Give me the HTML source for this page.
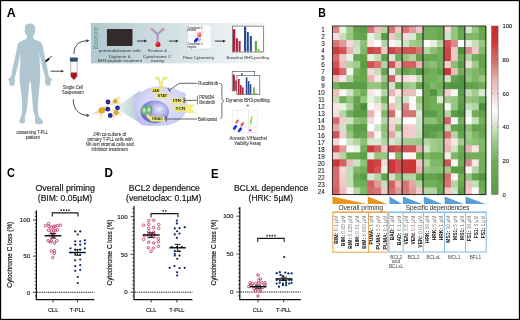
<!DOCTYPE html>
<html><head><meta charset="utf-8"><style>html,body{margin:0;padding:0;background:#fff;width:520px;height:320px;overflow:hidden}</style></head>
<body><div style="will-change:transform;width:520px;height:320px">
<svg xmlns="http://www.w3.org/2000/svg" width="520" height="320" viewBox="0 0 520 320" style="display:block">
<g font-family='"Liberation Sans", sans-serif'>
<defs>
<linearGradient id="gbox" x1="0" x2="1" y1="0" y2="0"><stop offset="0" stop-color="#b0c8d0"/><stop offset="0.55" stop-color="#dae5e8"/><stop offset="1" stop-color="#f8fafa"/></linearGradient>
<linearGradient id="gcb" x1="0" x2="0" y1="0" y2="1"><stop offset="0.000" stop-color="#c8282c"/><stop offset="0.100" stop-color="#cc3a3a"/><stop offset="0.230" stop-color="#d87a7a"/><stop offset="0.320" stop-color="#e8b4b4"/><stop offset="0.400" stop-color="#f2cece"/><stop offset="0.500" stop-color="#ffffff"/><stop offset="0.600" stop-color="#cee4c8"/><stop offset="0.700" stop-color="#98c684"/><stop offset="0.800" stop-color="#72ae5c"/><stop offset="0.900" stop-color="#64a452"/><stop offset="1.000" stop-color="#5a9a4a"/></linearGradient>
<linearGradient id="gcone" x1="0" x2="1" y1="0" y2="0"><stop offset="0" stop-color="#e2ecee"/><stop offset="1" stop-color="#b0c8cc"/></linearGradient>
<radialGradient id="gcell" cx="0.55" cy="0.45" r="0.6"><stop offset="0" stop-color="#e4e4fa"/><stop offset="0.7" stop-color="#d2d4f6"/><stop offset="1" stop-color="#bcc0f0"/></radialGradient>
<radialGradient id="gnuc" cx="0.62" cy="0.42" r="0.62" fx="0.66" fy="0.38"><stop offset="0" stop-color="#ececfa"/><stop offset="0.45" stop-color="#aeaee6"/><stop offset="0.85" stop-color="#7c7cd2"/><stop offset="1" stop-color="#6a6ac6"/></radialGradient>
<radialGradient id="gchr" cx="0.45" cy="0.5" r="0.6"><stop offset="0" stop-color="#f4fff4"/><stop offset="0.35" stop-color="#96cf9e"/><stop offset="1" stop-color="#3f9456"/></radialGradient>
<radialGradient id="gblue" cx="0.5" cy="0.5" r="0.5"><stop offset="0" stop-color="#3a3ab8"/><stop offset="0.75" stop-color="#1e1e98"/><stop offset="1" stop-color="#3030a0"/></radialGradient>
<radialGradient id="ggold" cx="0.5" cy="0.5" r="0.5"><stop offset="0" stop-color="#e2b832"/><stop offset="0.8" stop-color="#d4a424"/><stop offset="1" stop-color="#b88818"/></radialGradient>
</defs>
<rect x="0" y="0" width="520" height="320" fill="#fff"/>
<text x="6.8" y="16.6" font-size="12" fill="#000" text-anchor="start" font-weight="bold" textLength="9.0" lengthAdjust="spacingAndGlyphs" >A</text>
<text x="318.2" y="16.9" font-size="12" fill="#000" text-anchor="start" font-weight="bold" textLength="7.6" lengthAdjust="spacingAndGlyphs" >B</text>
<text x="7.0" y="177.4" font-size="12" fill="#000" text-anchor="start" font-weight="bold" textLength="7.9" lengthAdjust="spacingAndGlyphs" >C</text>
<text x="104.5" y="177.2" font-size="12" fill="#000" text-anchor="start" font-weight="bold" textLength="8.4" lengthAdjust="spacingAndGlyphs" >D</text>
<text x="211.1" y="177.5" font-size="12" fill="#000" text-anchor="start" font-weight="bold" textLength="7.6" lengthAdjust="spacingAndGlyphs" >E</text>
<path d="M24.9,28.2 C24.9,24.6 27.4,23.4 30,23.4 C32.6,23.4 35.1,24.6 35.1,28.2 L35.1,30.4 C35.7,30.5 35.7,32.4 35,32.8 C34.6,34.2 33.9,35.1 33.3,35.6 L26.7,35.6 C26.1,35.1 25.4,34.2 25,32.8 C24.3,32.4 24.3,30.5 24.9,30.4 Z" fill="#afc6d0"/>
<path d="M26.9,34 L26.9,38.4 C24.6,39.7 21.6,40.6 19.7,42 C18.2,43.1 17.2,45 16.9,48 L14.6,60 L13,66 L11.2,76.3 C10,77.6 8.4,79 7.3,80.3 C8,80.9 9,80.5 9.5,80.3 L9.3,83.8 L10.3,85.9 L11.9,85.5 L13.3,85.9 L14.5,84.6 L15,80.6 L14.9,77 L18,66 L18.6,62 L20.5,53 L20.3,60 L19.8,70 L19.5,78 L19.8,82 L21.4,94.4 L22.2,104 L22,110 L21.4,115.5 C20.2,118 19.2,120.5 19.5,122 C20,123.8 24,124 24.9,122.5 L25,116.5 L26.9,110 L28.4,94.4 L29.2,84 L30,80.3 L30.8,84 L31.9,94.4 L33.1,110 L35,116.5 L35.1,122.8 C36,124.6 42.8,125.2 43.3,122.6 C43,120.5 39.8,118 38.6,115.5 L37.8,110 L38,104 L38.6,94.4 L40,82 L40.3,78 L40,70 L39.7,60 L39.5,53 L41.4,62 L42,66 L45.1,77 L45,80.6 L45.5,84.6 L46.7,85.9 L48.1,85.5 L49.7,85.9 L50.7,83.8 L50.5,80.3 C51,80.5 52,80.9 52.7,80.3 C51.6,79 50,77.6 48.8,76.3 L47,66 L45.4,60 L43.1,48 C42.8,45 41.8,43.1 40.3,42 C38.4,40.6 35.4,39.7 33.1,38.4 L33.1,34 Z" fill="#afc6d0"/>
<line x1="44.6" y1="62.4" x2="45.8" y2="61.3" stroke="#444" stroke-width="0.5"/>
<line x1="45.6" y1="61.5" x2="49.2" y2="58.4" stroke="#111" stroke-width="2"/>
<line x1="49.2" y1="58.4" x2="52.2" y2="55.8" stroke="#777" stroke-width="1.1"/>
<text x="32.2" y="134.1" font-size="4.8" fill="#2a2a2a" text-anchor="middle" font-weight="normal" textLength="31.6" lengthAdjust="spacingAndGlyphs" stroke="#2a2a2a" stroke-width="0.06" >consenting T-PLL</text>
<text x="32.9" y="138.6" font-size="4.8" fill="#2a2a2a" text-anchor="middle" font-weight="normal" textLength="14" lengthAdjust="spacingAndGlyphs" stroke="#2a2a2a" stroke-width="0.06" >patient</text>
<line x1="50.5" y1="71.2" x2="61.8" y2="71.2" stroke="#333" stroke-width="0.9"/>
<path d="M61.2,69.8 L64,71.2 L61.2,72.6 Z" fill="#333"/>
<path d="M70.6,61.3 L77.2,61.3 L77.2,76.4 L74.2,80.2 L73.6,80.2 L70.6,76.4 Z" fill="#fff" stroke="#9a9a9a" stroke-width="0.6"/>
<path d="M70.9,72.6 L76.9,72.6 L76.9,76.3 L74.1,79.8 L73.7,79.8 L70.9,76.3 Z" fill="#a8161e"/>
<rect x="69.9" y="57.5" width="7.9" height="4" rx="0.8" fill="#2a4470"/>
<line x1="70.4" y1="59.1" x2="77.3" y2="59.1" stroke="#6a84aa" stroke-width="0.4"/>
<line x1="71.2" y1="63.8" x2="72.6" y2="63.8" stroke="#aaa" stroke-width="0.35"/>
<line x1="71.2" y1="65.6" x2="72.6" y2="65.6" stroke="#aaa" stroke-width="0.35"/>
<line x1="71.2" y1="67.4" x2="72.6" y2="67.4" stroke="#aaa" stroke-width="0.35"/>
<line x1="71.2" y1="69.2" x2="72.6" y2="69.2" stroke="#aaa" stroke-width="0.35"/>
<text x="72.9" y="88.8" font-size="4.8" fill="#2a2a2a" text-anchor="middle" font-weight="normal" textLength="20.4" lengthAdjust="spacingAndGlyphs" stroke="#2a2a2a" stroke-width="0.06" >Single Cell</text>
<text x="72.85" y="93.8" font-size="4.8" fill="#2a2a2a" text-anchor="middle" font-weight="normal" textLength="21.9" lengthAdjust="spacingAndGlyphs" stroke="#2a2a2a" stroke-width="0.06" >Suspension</text>
<path d="M74,54 C74,46 78,41.2 86.6,40.8" fill="none" stroke="#333" stroke-width="0.9"/>
<path d="M86.4,39.3 L89.6,40.8 L86.4,42.3 Z" fill="#333"/>
<path d="M73.3,99.2 C73,108 78,114.8 86.8,115.3" fill="none" stroke="#333" stroke-width="0.9"/>
<path d="M86.6,113.8 L89.8,115.4 L86.6,116.9 Z" fill="#333"/>
<rect x="90.9" y="23" width="176" height="40.4" fill="url(#gbox)"/>
<text x="0" y="0" font-size="6.3" fill="#5e9e7a" text-anchor="middle" textLength="22.8" lengthAdjust="spacingAndGlyphs" transform="translate(97.7,38.1) rotate(-90)">Baseline</text>
<rect x="106.9" y="28.9" width="25.6" height="17.0" rx="0.8" fill="#322b2b"/>
<line x1="137" y1="41" x2="144.6" y2="41" stroke="#222" stroke-width="0.9"/>
<path d="M144.2,39.6 L147,41 L144.2,42.4 Z" fill="#222"/>
<path d="M151.7,29 L157.6,34.2 L163.4,29" fill="none" stroke="#ab92c8" stroke-width="2"/>
<line x1="157.6" y1="34" x2="157.6" y2="42.5" stroke="#ab92c8" stroke-width="2"/>
<line x1="151.2" y1="28.4" x2="153" y2="30.1" stroke="#c89a68" stroke-width="2.1"/>
<line x1="163.9" y1="28.4" x2="162.1" y2="30.1" stroke="#c89a68" stroke-width="2.1"/>
<circle cx="158" cy="44.6" r="2.5" fill="#d8101c"/>
<circle cx="157.3" cy="43.8" r="0.8" fill="#f88"/>
<line x1="169" y1="41.1" x2="176.2" y2="41.1" stroke="#222" stroke-width="0.9"/>
<path d="M175.8,39.7 L178.6,41.1 L175.8,42.5 Z" fill="#222"/>
<line x1="214.7" y1="41.1" x2="223.4" y2="41.1" stroke="#222" stroke-width="0.9"/>
<path d="M223,39.7 L225.8,41.1 L223,42.5 Z" fill="#222"/>
<text x="119.80000000000001" y="52.2" font-size="4.4" fill="#333" text-anchor="middle" font-weight="normal" textLength="42.0" lengthAdjust="spacingAndGlyphs" >permeabilization with</text>
<text x="119.75" y="57.5" font-size="4.4" fill="#333" text-anchor="middle" font-weight="normal" textLength="21.9" lengthAdjust="spacingAndGlyphs" >Digitonin &amp;</text>
<text x="119.85" y="62.2" font-size="4.4" fill="#333" text-anchor="middle" font-weight="normal" textLength="44.1" lengthAdjust="spacingAndGlyphs" >BH3 peptide treatment</text>
<text x="157.5" y="52.2" font-size="4.4" fill="#333" text-anchor="middle" font-weight="normal" textLength="19" lengthAdjust="spacingAndGlyphs" >Fication &amp;</text>
<text x="157.1" y="57.5" font-size="4.4" fill="#333" text-anchor="middle" font-weight="normal" textLength="28.2" lengthAdjust="spacingAndGlyphs" >Cytochrome C</text>
<text x="157.3" y="61.6" font-size="4.4" fill="#333" text-anchor="middle" font-weight="normal" textLength="13.2" lengthAdjust="spacingAndGlyphs" >staining</text>
<text x="198.55" y="59" font-size="4.4" fill="#333" text-anchor="middle" font-weight="normal" textLength="31.3" lengthAdjust="spacingAndGlyphs" >Flow Cytometry</text>
<text x="247.95" y="59" font-size="4.4" fill="#333" text-anchor="middle" font-weight="normal" textLength="42.9" lengthAdjust="spacingAndGlyphs" >Baseline BH3-profiling</text>
<rect x="187" y="25.5" width="23.5" height="24" fill="#fff"/>
<line x1="187.3" y1="26" x2="187.3" y2="49" stroke="#999" stroke-width="0.3"/>
<line x1="187.3" y1="49" x2="210.8" y2="49" stroke="#999" stroke-width="0.3"/>
<line x1="192" y1="49" x2="192" y2="49.8" stroke="#999" stroke-width="0.3"/>
<line x1="196.8" y1="49" x2="196.8" y2="49.8" stroke="#999" stroke-width="0.3"/>
<line x1="201.6" y1="49" x2="201.6" y2="49.8" stroke="#999" stroke-width="0.3"/>
<line x1="206.4" y1="49" x2="206.4" y2="49.8" stroke="#999" stroke-width="0.3"/>
<line x1="210.8" y1="49" x2="210.8" y2="49.8" stroke="#999" stroke-width="0.3"/>
<text x="187.6" y="28.5" font-size="2.9" fill="#444" text-anchor="start" font-weight="bold" textLength="15.2" lengthAdjust="spacingAndGlyphs" >Cytochrome C</text>
<text x="187.6" y="30.8" font-size="2.9" fill="#444" text-anchor="start" font-weight="bold" textLength="8.8" lengthAdjust="spacingAndGlyphs" >positive</text>
<text x="187.6" y="45.2" font-size="2.9" fill="#444" text-anchor="start" font-weight="bold" textLength="15.2" lengthAdjust="spacingAndGlyphs" >Cytochrome C</text>
<text x="187.6" y="47.5" font-size="2.9" fill="#444" text-anchor="start" font-weight="bold" textLength="8.8" lengthAdjust="spacingAndGlyphs" >negative</text>
<line x1="187.5" y1="35.2" x2="196" y2="36.2" stroke="#ccc" stroke-width="0.4"/>
<line x1="199.5" y1="38.5" x2="205.5" y2="42" stroke="#ddd" stroke-width="0.4"/>
<ellipse cx="199.3" cy="34.5" rx="2.4" ry="3" fill="#f08a8a" opacity="0.8" transform="rotate(30 199.3 34.5)"/>
<ellipse cx="199.8" cy="35.8" rx="1.4" ry="1.6" fill="#e04a4a" opacity="0.8"/>
<circle cx="202.5" cy="31.5" r="0.45" fill="#f07070"/>
<circle cx="203.8" cy="32.8" r="0.45" fill="#f07070"/>
<circle cx="201.6" cy="30.6" r="0.45" fill="#f07070"/>
<circle cx="196" cy="32" r="0.45" fill="#f07070"/>
<circle cx="204.5" cy="31" r="0.45" fill="#f07070"/>
<circle cx="195.2" cy="33.2" r="0.45" fill="#f07070"/>
<ellipse cx="199.6" cy="40" rx="2" ry="1.1" fill="#9aa8f8" opacity="0.8" transform="rotate(-45 199.6 40)"/>
<ellipse cx="196.2" cy="40" rx="1.5" ry="3" fill="#1424e8" transform="rotate(40 196.2 40)"/>
<rect x="232.3" y="26.1" width="31.3" height="25.9" fill="#fff" stroke="#444" stroke-width="0.6"/>
<rect x="232.9" y="29.2" width="2.4" height="22.40" fill="#b01c3c"/>
<rect x="235.9" y="38.3" width="2" height="13.30" fill="#b01c3c"/>
<rect x="238.6" y="41" width="2" height="10.60" fill="#b01c3c"/>
<rect x="244" y="26.6" width="2.2" height="25.00" fill="#2a4a8a"/>
<rect x="246.9" y="32" width="1.9" height="19.60" fill="#2a4a8a"/>
<rect x="249.8" y="36" width="2.1" height="15.60" fill="#2a4a8a"/>
<rect x="254.8" y="41" width="2.1" height="10.60" fill="#5aaa3a"/>
<rect x="257.7" y="49.2" width="1.5" height="2.40" fill="#5aaa3a"/>
<rect x="259.7" y="50.8" width="2.2" height="0.80" fill="#5aaa3a"/>
<rect x="232.2" y="71.4" width="22.5" height="19.5" fill="#fff" stroke="#444" stroke-width="0.6"/>
<rect x="232.9" y="74.6" width="2" height="15.90" fill="#b01c3c"/>
<rect x="235.2" y="80.5" width="1.6" height="10.00" fill="#b01c3c"/>
<rect x="241.2" y="73.2" width="1.4" height="17.30" fill="#2a4a8a"/>
<rect x="236.9" y="75.6" width="22.9" height="19.1" fill="#fff" stroke="#444" stroke-width="0.6"/>
<rect x="238" y="79" width="1.6" height="15.30" fill="#b01c3c"/>
<rect x="240" y="85" width="1.6" height="9.30" fill="#b01c3c"/>
<rect x="242" y="87.3" width="1.6" height="7.00" fill="#b01c3c"/>
<rect x="245.8" y="77.2" width="1.6" height="17.10" fill="#2a4a8a"/>
<rect x="247.8" y="81" width="1.6" height="13.30" fill="#2a4a8a"/>
<rect x="249.7" y="84.2" width="1.6" height="10.10" fill="#2a4a8a"/>
<rect x="253.1" y="87.3" width="1.6" height="7.00" fill="#5aaa3a"/>
<rect x="255.2" y="92.8" width="1.5" height="1.50" fill="#5aaa3a"/>
<text x="247.85" y="101.9" font-size="4.8" fill="#2a2a2a" text-anchor="middle" font-weight="normal" textLength="43.7" lengthAdjust="spacingAndGlyphs" stroke="#2a2a2a" stroke-width="0.06" >Dynamic BH3-profiling</text>
<text x="248" y="106.9" font-size="4.8" fill="#2a2a2a" text-anchor="middle" font-weight="normal" stroke="#2a2a2a" stroke-width="0.06" >+</text>
<rect x="232.8" y="110.3" width="16" height="20" fill="#fff" stroke="#ccc" stroke-width="0.3"/>
<rect x="237.5" y="110" width="19.7" height="22.3" fill="#fff" stroke="#ccc" stroke-width="0.3"/>
<line x1="248.6" y1="110" x2="248.6" y2="132.3" stroke="#bbb" stroke-width="0.3"/>
<line x1="237.5" y1="127" x2="257.2" y2="127" stroke="#bbb" stroke-width="0.3"/>
<line x1="240" y1="132.3" x2="240" y2="133" stroke="#999" stroke-width="0.3"/>
<line x1="244" y1="132.3" x2="244" y2="133" stroke="#999" stroke-width="0.3"/>
<line x1="248" y1="132.3" x2="248" y2="133" stroke="#999" stroke-width="0.3"/>
<line x1="252" y1="132.3" x2="252" y2="133" stroke="#999" stroke-width="0.3"/>
<line x1="256" y1="132.3" x2="256" y2="133" stroke="#999" stroke-width="0.3"/>
<ellipse cx="237" cy="121.6" rx="2.6" ry="1.1" fill="#f07070" opacity="0.9" transform="rotate(-55 237 121.6)"/>
<ellipse cx="237.3" cy="121.4" rx="1.2" ry="0.8" fill="#d83030" transform="rotate(-55 237.3 121.4)"/>
<ellipse cx="242.2" cy="124.2" rx="2.8" ry="1.2" fill="#f07070" opacity="0.9" transform="rotate(-55 242.2 124.2)"/>
<ellipse cx="242.3" cy="124.3" rx="1.3" ry="0.8" fill="#d83030" transform="rotate(-55 242.3 124.3)"/>
<ellipse cx="235" cy="127.4" rx="2.8" ry="1.4" fill="#1428e8" transform="rotate(-55 235 127.4)"/>
<ellipse cx="240" cy="129.8" rx="2.8" ry="1.4" fill="#1428e8" transform="rotate(-55 240 129.8)"/>
<ellipse cx="251.2" cy="120.5" rx="0.9" ry="4.6" fill="#90e050" transform="rotate(12 251.2 120.5)"/>
<ellipse cx="250.2" cy="130.3" rx="1.6" ry="1.1" fill="#e030e8"/>
<text x="248.3" y="140.2" font-size="4.8" fill="#2a2a2a" text-anchor="middle" font-weight="normal" textLength="37.4" lengthAdjust="spacingAndGlyphs" stroke="#2a2a2a" stroke-width="0.06" >Annexin V/Hoechst</text>
<text x="247.65" y="144.6" font-size="4.8" fill="#2a2a2a" text-anchor="middle" font-weight="normal" textLength="26.9" lengthAdjust="spacingAndGlyphs" stroke="#2a2a2a" stroke-width="0.06" >Viability Assay</text>
<path d="M108.6,105.2 Q112.8,102.8 113,99.6 Q116,97.6 121.2,96.2 Q118.6,99.6 118.2,101.4 Q120.2,103 122.4,104.2 Q117.6,104.2 115.4,104.2 Q112.8,105.4 108.6,105.2 Z" fill="#f7e0b6"/>
<path d="M91.2,114.2 Q97,111.2 99,108.4 Q101,106.2 104,106.6 Q106.6,105.8 109.2,103.8 Q107.6,107 106.2,109.6 Q106.2,112.6 104,113.6 Q102,115.6 100.4,120.4 Q99.8,115.6 99.4,113.6 Q96,114.2 91.2,114.2 Z" fill="#f7e0b6"/>
<path d="M112.2,108.8 Q115,109.8 117.6,109.8 Q119.2,111.4 122.4,116.2 Q119,114.6 118,115.2 Q115.6,116.2 114.6,117.2 Q113.6,119.6 112.4,122.8 Q112.4,118 112.9,115.6 Q113,112 112.2,108.8 Z" fill="#f7e0b6"/>
<ellipse cx="115.2" cy="101.3" rx="2.1" ry="2" fill="url(#ggold)"/>
<ellipse cx="102" cy="110.2" rx="3.4" ry="2.6" fill="url(#ggold)" transform="rotate(-15 102 110.2)"/>
<ellipse cx="116.1" cy="112.5" rx="2.3" ry="2.3" fill="url(#ggold)"/>
<path d="M118.5,105.5 L140,90.5 L143,125 L118.5,109.8 Z" fill="url(#gcone)"/>
<circle cx="108" cy="102" r="2.4" fill="url(#gblue)"/>
<circle cx="107.8" cy="109.2" r="2.4" fill="url(#gblue)"/>
<circle cx="117.5" cy="107.8" r="2.4" fill="url(#gblue)"/>
<circle cx="110.2" cy="115.5" r="2.4" fill="url(#gblue)"/>
<path d="M134,104 C134,94 146,86.5 160,86.5 C170,86.5 177,89 182,92.3 C185,91.8 186.5,94 185.3,96.5 C187,100 187.5,106 186,111.5 C183,120 174,125.5 160,125.8 C150,126.1 143,126 141,124.5 C136,121 134,113 134,104 Z" fill="url(#gcell)"/>
<ellipse cx="154.8" cy="111.8" rx="14.2" ry="11.4" fill="url(#gnuc)"/>
<path d="M160.2,88 L159.8,81.5 C159.6,79.8 159,78.8 157.6,78.4" fill="none" stroke="#e6e05a" stroke-width="1.3"/>
<path d="M161.9,88 L162.1,81.5 C162.3,79.8 163,78.8 164.4,78.4" fill="none" stroke="#e6e05a" stroke-width="1.3"/>
<ellipse cx="157.3" cy="78.1" rx="2.4" ry="1.35" fill="#e6e05a"/><ellipse cx="164.7" cy="78.1" rx="2.4" ry="1.35" fill="#e6e05a"/>
<ellipse cx="157.1" cy="77.8" rx="1.1" ry="0.5" fill="#f8f4b0"/><ellipse cx="164.5" cy="77.8" rx="1.1" ry="0.5" fill="#f8f4b0"/>
<ellipse cx="144.5" cy="110.4" rx="3.1" ry="4.6" fill="url(#gchr)"/>
<ellipse cx="149.2" cy="109.8" rx="3.1" ry="4.6" fill="url(#gchr)"/>
<path d="M146,113 L151,116.5 L151,121 L147,117 Z" fill="#eeea6c"/>
<rect x="151.3" y="88" width="9.3" height="5.0" rx="1" fill="#eeea6c"/>
<text x="155.95" y="91.9" font-size="4.1" fill="#2a2a2a" text-anchor="middle" font-weight="bold" textLength="7.4" lengthAdjust="spacingAndGlyphs" >JAK</text>
<rect x="156.3" y="93.5" width="12.2" height="4.8" rx="1" fill="#eeea6c"/>
<text x="162.4" y="97.2" font-size="4.1" fill="#2a2a2a" text-anchor="middle" font-weight="bold" textLength="9.8" lengthAdjust="spacingAndGlyphs" >STAT</text>
<rect x="169.9" y="103.4" width="13.6" height="1" fill="#eeea6c"/>
<rect x="171.8" y="98.2" width="11.2" height="5.0" rx="1" fill="#eeea6c"/>
<text x="177.4" y="102.10000000000001" font-size="4.1" fill="#2a2a2a" text-anchor="middle" font-weight="bold" textLength="9.0" lengthAdjust="spacingAndGlyphs" >ITK</text>
<path d="M185.5,104.6 L195,104.6 L191.2,108.7 L195,113 L185.5,113 Z" fill="#f2ee7c"/><line x1="187" y1="105.5" x2="187" y2="112" stroke="#fafad0" stroke-width="0.5"/><line x1="189" y1="106.5" x2="189" y2="111" stroke="#fafad0" stroke-width="0.4"/>
<rect x="174.3" y="105.9" width="12.4" height="5.5" rx="1" fill="#eeea6c"/>
<text x="180.5" y="110.30000000000001" font-size="4.1" fill="#2a2a2a" text-anchor="middle" font-weight="bold" textLength="9.9" lengthAdjust="spacingAndGlyphs" >TCR</text>
<rect x="150.9" y="116.6" width="13.3" height="4.8" rx="1" fill="#eeea6c"/>
<text x="157.55" y="120.30000000000001" font-size="4.1" fill="#2a2a2a" text-anchor="middle" font-weight="bold" textLength="10.6" lengthAdjust="spacingAndGlyphs" >HDAC</text>
<path d="M197.2,83.3 L179.4,83.3 L169.2,90.2" fill="none" stroke="#222" stroke-width="0.7"/>
<line x1="167.7" y1="88" x2="170.6" y2="92.2" stroke="#222" stroke-width="0.8"/>
<line x1="196.6" y1="100.4" x2="184.1" y2="100.4" stroke="#222" stroke-width="0.7"/>
<line x1="184.1" y1="97.6" x2="184.1" y2="103.1" stroke="#222" stroke-width="0.8"/>
<path d="M198.2,95.9 L197.3,96.3 L197.3,104 L198.2,104.4" fill="none" stroke="#222" stroke-width="0.6"/>
<line x1="197.2" y1="119" x2="166.2" y2="119" stroke="#222" stroke-width="0.7"/>
<line x1="166.2" y1="116.3" x2="166.2" y2="121.7" stroke="#222" stroke-width="0.8"/>
<text x="208.2" y="85" font-size="4.8" fill="#2a2a2a" text-anchor="middle" font-weight="normal" textLength="19.8" lengthAdjust="spacingAndGlyphs" stroke="#2a2a2a" stroke-width="0.06" >Ruxolitinib</text>
<text x="206.7" y="99.1" font-size="4.8" fill="#2a2a2a" text-anchor="middle" font-weight="normal" textLength="15" lengthAdjust="spacingAndGlyphs" stroke="#2a2a2a" stroke-width="0.06" >PRN694</text>
<text x="207.15" y="104.2" font-size="4.8" fill="#2a2a2a" text-anchor="middle" font-weight="normal" textLength="15.9" lengthAdjust="spacingAndGlyphs" stroke="#2a2a2a" stroke-width="0.06" >Ibrutinib</text>
<text x="207.5" y="120.6" font-size="4.8" fill="#2a2a2a" text-anchor="middle" font-weight="normal" textLength="18.8" lengthAdjust="spacingAndGlyphs" stroke="#2a2a2a" stroke-width="0.06" >Belinostat</text>
<path d="M219.2,83.4 C221.2,83.4 221.9,84.4 221.9,86.5 L221.9,98 C221.9,99.8 222.6,100.6 223.8,100.9 C222.6,101.2 221.9,102 221.9,103.8 L221.9,115.5 C221.9,117.6 221.2,118.6 219.6,118.6" fill="none" stroke="#333" stroke-width="0.7"/>
<text x="109.69999999999999" y="136.2" font-size="5.0" fill="#2a2a2a" text-anchor="middle" font-weight="normal" textLength="32.8" lengthAdjust="spacingAndGlyphs" stroke="#2a2a2a" stroke-width="0.06" >24h co-culture of</text>
<text x="110.0" y="141.2" font-size="5.0" fill="#2a2a2a" text-anchor="middle" font-weight="normal" textLength="45.0" lengthAdjust="spacingAndGlyphs" stroke="#2a2a2a" stroke-width="0.06" >primary T-PLL cells with</text>
<text x="109.69999999999999" y="146.3" font-size="5.0" fill="#2a2a2a" text-anchor="middle" font-weight="normal" textLength="47.8" lengthAdjust="spacingAndGlyphs" stroke="#2a2a2a" stroke-width="0.06" >NK-tert stromal cells and</text>
<text x="109.7" y="151.2" font-size="5.0" fill="#2a2a2a" text-anchor="middle" font-weight="normal" textLength="36.4" lengthAdjust="spacingAndGlyphs" stroke="#2a2a2a" stroke-width="0.06" >inhibitor treatment</text>
<rect x="332.40" y="26.00" width="7.67" height="7.72" fill="#dc8787"/>
<rect x="339.37" y="26.00" width="7.67" height="7.72" fill="#e6f2e2"/>
<rect x="346.34" y="26.00" width="7.67" height="7.72" fill="#a1cc8e"/>
<rect x="353.31" y="26.00" width="7.67" height="7.72" fill="#64a34c"/>
<rect x="360.28" y="26.00" width="7.67" height="7.72" fill="#5b9c47"/>
<rect x="367.25" y="26.00" width="7.67" height="7.72" fill="#d77575"/>
<rect x="374.22" y="26.00" width="7.67" height="7.72" fill="#ecbebe"/>
<rect x="381.19" y="26.00" width="7.67" height="7.72" fill="#b2d5a3"/>
<rect x="388.16" y="26.00" width="7.67" height="7.72" fill="#d77575"/>
<rect x="395.13" y="26.00" width="7.67" height="7.72" fill="#f0c8c8"/>
<rect x="402.10" y="26.00" width="7.67" height="7.72" fill="#d77575"/>
<rect x="409.07" y="26.00" width="7.67" height="7.72" fill="#e19a9a"/>
<rect x="416.04" y="26.00" width="7.67" height="7.72" fill="#f0c8c8"/>
<rect x="423.01" y="26.00" width="7.67" height="7.72" fill="#73ae5a"/>
<rect x="429.98" y="26.00" width="7.67" height="7.72" fill="#73ae5a"/>
<rect x="436.95" y="26.00" width="7.67" height="7.72" fill="#6aa850"/>
<rect x="443.92" y="26.00" width="7.67" height="7.72" fill="#f5d8d8"/>
<rect x="450.89" y="26.00" width="7.67" height="7.72" fill="#96c680"/>
<rect x="457.86" y="26.00" width="7.67" height="7.72" fill="#64a34c"/>
<rect x="464.83" y="26.00" width="7.67" height="7.72" fill="#d8e9d1"/>
<rect x="471.80" y="26.00" width="7.67" height="7.72" fill="#96c680"/>
<rect x="478.77" y="26.00" width="7.67" height="7.72" fill="#6aa850"/>
<rect x="332.40" y="33.02" width="7.67" height="7.72" fill="#f6dddd"/>
<rect x="339.37" y="33.02" width="7.67" height="7.72" fill="#c3deb8"/>
<rect x="346.34" y="33.02" width="7.67" height="7.72" fill="#96c680"/>
<rect x="353.31" y="33.02" width="7.67" height="7.72" fill="#6aa850"/>
<rect x="360.28" y="33.02" width="7.67" height="7.72" fill="#64a34c"/>
<rect x="367.25" y="33.02" width="7.67" height="7.72" fill="#e6f2e2"/>
<rect x="374.22" y="33.02" width="7.67" height="7.72" fill="#c3deb8"/>
<rect x="381.19" y="33.02" width="7.67" height="7.72" fill="#5b9c47"/>
<rect x="388.16" y="33.02" width="7.67" height="7.72" fill="#f0c8c8"/>
<rect x="395.13" y="33.02" width="7.67" height="7.72" fill="#b2d5a3"/>
<rect x="402.10" y="33.02" width="7.67" height="7.72" fill="#f5d8d8"/>
<rect x="409.07" y="33.02" width="7.67" height="7.72" fill="#d8e9d1"/>
<rect x="416.04" y="33.02" width="7.67" height="7.72" fill="#80b768"/>
<rect x="423.01" y="33.02" width="7.67" height="7.72" fill="#73ae5a"/>
<rect x="429.98" y="33.02" width="7.67" height="7.72" fill="#73ae5a"/>
<rect x="436.95" y="33.02" width="7.67" height="7.72" fill="#6aa850"/>
<rect x="443.92" y="33.02" width="7.67" height="7.72" fill="#cee4c6"/>
<rect x="450.89" y="33.02" width="7.67" height="7.72" fill="#96c680"/>
<rect x="457.86" y="33.02" width="7.67" height="7.72" fill="#6aa850"/>
<rect x="464.83" y="33.02" width="7.67" height="7.72" fill="#80b768"/>
<rect x="471.80" y="33.02" width="7.67" height="7.72" fill="#80b768"/>
<rect x="478.77" y="33.02" width="7.67" height="7.72" fill="#6aa850"/>
<rect x="332.40" y="40.04" width="7.67" height="7.72" fill="#d77575"/>
<rect x="339.37" y="40.04" width="7.67" height="7.72" fill="#e19a9a"/>
<rect x="346.34" y="40.04" width="7.67" height="7.72" fill="#f5d8d8"/>
<rect x="353.31" y="40.04" width="7.67" height="7.72" fill="#c3deb8"/>
<rect x="360.28" y="40.04" width="7.67" height="7.72" fill="#8dc076"/>
<rect x="367.25" y="40.04" width="7.67" height="7.72" fill="#f8e6e6"/>
<rect x="374.22" y="40.04" width="7.67" height="7.72" fill="#ffffff"/>
<rect x="381.19" y="40.04" width="7.67" height="7.72" fill="#b2d5a3"/>
<rect x="388.16" y="40.04" width="7.67" height="7.72" fill="#fcf5f5"/>
<rect x="395.13" y="40.04" width="7.67" height="7.72" fill="#e6f2e2"/>
<rect x="402.10" y="40.04" width="7.67" height="7.72" fill="#cee4c6"/>
<rect x="409.07" y="40.04" width="7.67" height="7.72" fill="#a1cc8e"/>
<rect x="416.04" y="40.04" width="7.67" height="7.72" fill="#96c680"/>
<rect x="423.01" y="40.04" width="7.67" height="7.72" fill="#ffffff"/>
<rect x="429.98" y="40.04" width="7.67" height="7.72" fill="#e6f2e2"/>
<rect x="436.95" y="40.04" width="7.67" height="7.72" fill="#b2d5a3"/>
<rect x="443.92" y="40.04" width="7.67" height="7.72" fill="#d15353"/>
<rect x="450.89" y="40.04" width="7.67" height="7.72" fill="#dc8787"/>
<rect x="457.86" y="40.04" width="7.67" height="7.72" fill="#ffffff"/>
<rect x="464.83" y="40.04" width="7.67" height="7.72" fill="#e6f2e2"/>
<rect x="471.80" y="40.04" width="7.67" height="7.72" fill="#c3deb8"/>
<rect x="478.77" y="40.04" width="7.67" height="7.72" fill="#96c680"/>
<rect x="332.40" y="47.06" width="7.67" height="7.72" fill="#cc3a3a"/>
<rect x="339.37" y="47.06" width="7.67" height="7.72" fill="#d15353"/>
<rect x="346.34" y="47.06" width="7.67" height="7.72" fill="#e8b4b4"/>
<rect x="353.31" y="47.06" width="7.67" height="7.72" fill="#cee4c6"/>
<rect x="360.28" y="47.06" width="7.67" height="7.72" fill="#80b768"/>
<rect x="367.25" y="47.06" width="7.67" height="7.72" fill="#ce4444"/>
<rect x="374.22" y="47.06" width="7.67" height="7.72" fill="#d15353"/>
<rect x="381.19" y="47.06" width="7.67" height="7.72" fill="#f0c8c8"/>
<rect x="388.16" y="47.06" width="7.67" height="7.72" fill="#ce4444"/>
<rect x="395.13" y="47.06" width="7.67" height="7.72" fill="#d36161"/>
<rect x="402.10" y="47.06" width="7.67" height="7.72" fill="#d15353"/>
<rect x="409.07" y="47.06" width="7.67" height="7.72" fill="#d15353"/>
<rect x="416.04" y="47.06" width="7.67" height="7.72" fill="#d77575"/>
<rect x="423.01" y="47.06" width="7.67" height="7.72" fill="#b2d5a3"/>
<rect x="429.98" y="47.06" width="7.67" height="7.72" fill="#8dc076"/>
<rect x="436.95" y="47.06" width="7.67" height="7.72" fill="#73ae5a"/>
<rect x="443.92" y="47.06" width="7.67" height="7.72" fill="#ce4444"/>
<rect x="450.89" y="47.06" width="7.67" height="7.72" fill="#f0c8c8"/>
<rect x="457.86" y="47.06" width="7.67" height="7.72" fill="#4c913e"/>
<rect x="464.83" y="47.06" width="7.67" height="7.72" fill="#dc8787"/>
<rect x="471.80" y="47.06" width="7.67" height="7.72" fill="#f0c8c8"/>
<rect x="478.77" y="47.06" width="7.67" height="7.72" fill="#80b768"/>
<rect x="332.40" y="54.08" width="7.67" height="7.72" fill="#d56b6b"/>
<rect x="339.37" y="54.08" width="7.67" height="7.72" fill="#f0c8c8"/>
<rect x="346.34" y="54.08" width="7.67" height="7.72" fill="#e6f2e2"/>
<rect x="353.31" y="54.08" width="7.67" height="7.72" fill="#6aa850"/>
<rect x="360.28" y="54.08" width="7.67" height="7.72" fill="#64a34c"/>
<rect x="367.25" y="54.08" width="7.67" height="7.72" fill="#e6f2e2"/>
<rect x="374.22" y="54.08" width="7.67" height="7.72" fill="#c3deb8"/>
<rect x="381.19" y="54.08" width="7.67" height="7.72" fill="#64a34c"/>
<rect x="388.16" y="54.08" width="7.67" height="7.72" fill="#d8e9d1"/>
<rect x="395.13" y="54.08" width="7.67" height="7.72" fill="#73ae5a"/>
<rect x="402.10" y="54.08" width="7.67" height="7.72" fill="#96c680"/>
<rect x="409.07" y="54.08" width="7.67" height="7.72" fill="#b2d5a3"/>
<rect x="416.04" y="54.08" width="7.67" height="7.72" fill="#64a34c"/>
<rect x="423.01" y="54.08" width="7.67" height="7.72" fill="#6aa850"/>
<rect x="429.98" y="54.08" width="7.67" height="7.72" fill="#6aa850"/>
<rect x="436.95" y="54.08" width="7.67" height="7.72" fill="#73ae5a"/>
<rect x="443.92" y="54.08" width="7.67" height="7.72" fill="#ce4444"/>
<rect x="450.89" y="54.08" width="7.67" height="7.72" fill="#f0c8c8"/>
<rect x="457.86" y="54.08" width="7.67" height="7.72" fill="#6aa850"/>
<rect x="464.83" y="54.08" width="7.67" height="7.72" fill="#b2d5a3"/>
<rect x="471.80" y="54.08" width="7.67" height="7.72" fill="#73ae5a"/>
<rect x="478.77" y="54.08" width="7.67" height="7.72" fill="#64a34c"/>
<rect x="332.40" y="61.10" width="7.67" height="7.72" fill="#d15353"/>
<rect x="339.37" y="61.10" width="7.67" height="7.72" fill="#ecbebe"/>
<rect x="346.34" y="61.10" width="7.67" height="7.72" fill="#b2d5a3"/>
<rect x="353.31" y="61.10" width="7.67" height="7.72" fill="#a1cc8e"/>
<rect x="360.28" y="61.10" width="7.67" height="7.72" fill="#5b9c47"/>
<rect x="367.25" y="61.10" width="7.67" height="7.72" fill="#d15353"/>
<rect x="374.22" y="61.10" width="7.67" height="7.72" fill="#d77575"/>
<rect x="381.19" y="61.10" width="7.67" height="7.72" fill="#b2d5a3"/>
<rect x="388.16" y="61.10" width="7.67" height="7.72" fill="#d15353"/>
<rect x="395.13" y="61.10" width="7.67" height="7.72" fill="#ecbebe"/>
<rect x="402.10" y="61.10" width="7.67" height="7.72" fill="#d36161"/>
<rect x="409.07" y="61.10" width="7.67" height="7.72" fill="#d36161"/>
<rect x="416.04" y="61.10" width="7.67" height="7.72" fill="#e8b4b4"/>
<rect x="423.01" y="61.10" width="7.67" height="7.72" fill="#80b768"/>
<rect x="429.98" y="61.10" width="7.67" height="7.72" fill="#8dc076"/>
<rect x="436.95" y="61.10" width="7.67" height="7.72" fill="#73ae5a"/>
<rect x="443.92" y="61.10" width="7.67" height="7.72" fill="#f2cece"/>
<rect x="450.89" y="61.10" width="7.67" height="7.72" fill="#8dc076"/>
<rect x="457.86" y="61.10" width="7.67" height="7.72" fill="#5b9c47"/>
<rect x="464.83" y="61.10" width="7.67" height="7.72" fill="#f6dddd"/>
<rect x="471.80" y="61.10" width="7.67" height="7.72" fill="#a1cc8e"/>
<rect x="478.77" y="61.10" width="7.67" height="7.72" fill="#64a34c"/>
<rect x="332.40" y="68.12" width="7.67" height="7.72" fill="#cc3637"/>
<rect x="339.37" y="68.12" width="7.67" height="7.72" fill="#d56b6b"/>
<rect x="346.34" y="68.12" width="7.67" height="7.72" fill="#f5faf4"/>
<rect x="353.31" y="68.12" width="7.67" height="7.72" fill="#73ae5a"/>
<rect x="360.28" y="68.12" width="7.67" height="7.72" fill="#64a34c"/>
<rect x="367.25" y="68.12" width="7.67" height="7.72" fill="#f5d8d8"/>
<rect x="374.22" y="68.12" width="7.67" height="7.72" fill="#c3deb8"/>
<rect x="381.19" y="68.12" width="7.67" height="7.72" fill="#64a34c"/>
<rect x="388.16" y="68.12" width="7.67" height="7.72" fill="#e6f2e2"/>
<rect x="395.13" y="68.12" width="7.67" height="7.72" fill="#80b768"/>
<rect x="402.10" y="68.12" width="7.67" height="7.72" fill="#64a34c"/>
<rect x="409.07" y="68.12" width="7.67" height="7.72" fill="#73ae5a"/>
<rect x="416.04" y="68.12" width="7.67" height="7.72" fill="#529642"/>
<rect x="423.01" y="68.12" width="7.67" height="7.72" fill="#6aa850"/>
<rect x="429.98" y="68.12" width="7.67" height="7.72" fill="#73ae5a"/>
<rect x="436.95" y="68.12" width="7.67" height="7.72" fill="#64a34c"/>
<rect x="443.92" y="68.12" width="7.67" height="7.72" fill="#cc3637"/>
<rect x="450.89" y="68.12" width="7.67" height="7.72" fill="#ecbebe"/>
<rect x="457.86" y="68.12" width="7.67" height="7.72" fill="#73ae5a"/>
<rect x="464.83" y="68.12" width="7.67" height="7.72" fill="#8dc076"/>
<rect x="471.80" y="68.12" width="7.67" height="7.72" fill="#80b768"/>
<rect x="478.77" y="68.12" width="7.67" height="7.72" fill="#73ae5a"/>
<rect x="332.40" y="75.14" width="7.67" height="7.72" fill="#ecbebe"/>
<rect x="339.37" y="75.14" width="7.67" height="7.72" fill="#f8e6e6"/>
<rect x="346.34" y="75.14" width="7.67" height="7.72" fill="#b2d5a3"/>
<rect x="353.31" y="75.14" width="7.67" height="7.72" fill="#6aa850"/>
<rect x="360.28" y="75.14" width="7.67" height="7.72" fill="#6aa850"/>
<rect x="367.25" y="75.14" width="7.67" height="7.72" fill="#e8b4b4"/>
<rect x="374.22" y="75.14" width="7.67" height="7.72" fill="#f8e6e6"/>
<rect x="381.19" y="75.14" width="7.67" height="7.72" fill="#96c680"/>
<rect x="388.16" y="75.14" width="7.67" height="7.72" fill="#d36161"/>
<rect x="395.13" y="75.14" width="7.67" height="7.72" fill="#f8e6e6"/>
<rect x="402.10" y="75.14" width="7.67" height="7.72" fill="#f6dddd"/>
<rect x="409.07" y="75.14" width="7.67" height="7.72" fill="#f8e6e6"/>
<rect x="416.04" y="75.14" width="7.67" height="7.72" fill="#c3deb8"/>
<rect x="423.01" y="75.14" width="7.67" height="7.72" fill="#73ae5a"/>
<rect x="429.98" y="75.14" width="7.67" height="7.72" fill="#73ae5a"/>
<rect x="436.95" y="75.14" width="7.67" height="7.72" fill="#80b768"/>
<rect x="443.92" y="75.14" width="7.67" height="7.72" fill="#cee4c6"/>
<rect x="450.89" y="75.14" width="7.67" height="7.72" fill="#64a34c"/>
<rect x="457.86" y="75.14" width="7.67" height="7.72" fill="#529642"/>
<rect x="464.83" y="75.14" width="7.67" height="7.72" fill="#96c680"/>
<rect x="471.80" y="75.14" width="7.67" height="7.72" fill="#80b768"/>
<rect x="478.77" y="75.14" width="7.67" height="7.72" fill="#96c680"/>
<rect x="332.40" y="82.16" width="7.67" height="7.72" fill="#73ae5a"/>
<rect x="339.37" y="82.16" width="7.67" height="7.72" fill="#5b9c47"/>
<rect x="346.34" y="82.16" width="7.67" height="7.72" fill="#5b9c47"/>
<rect x="353.31" y="82.16" width="7.67" height="7.72" fill="#5b9c47"/>
<rect x="360.28" y="82.16" width="7.67" height="7.72" fill="#5b9c47"/>
<rect x="367.25" y="82.16" width="7.67" height="7.72" fill="#96c680"/>
<rect x="374.22" y="82.16" width="7.67" height="7.72" fill="#96c680"/>
<rect x="381.19" y="82.16" width="7.67" height="7.72" fill="#73ae5a"/>
<rect x="388.16" y="82.16" width="7.67" height="7.72" fill="#cee4c6"/>
<rect x="395.13" y="82.16" width="7.67" height="7.72" fill="#64a34c"/>
<rect x="402.10" y="82.16" width="7.67" height="7.72" fill="#96c680"/>
<rect x="409.07" y="82.16" width="7.67" height="7.72" fill="#a1cc8e"/>
<rect x="416.04" y="82.16" width="7.67" height="7.72" fill="#64a34c"/>
<rect x="423.01" y="82.16" width="7.67" height="7.72" fill="#6aa850"/>
<rect x="429.98" y="82.16" width="7.67" height="7.72" fill="#80b768"/>
<rect x="436.95" y="82.16" width="7.67" height="7.72" fill="#73ae5a"/>
<rect x="443.92" y="82.16" width="7.67" height="7.72" fill="#5b9c47"/>
<rect x="450.89" y="82.16" width="7.67" height="7.72" fill="#529642"/>
<rect x="457.86" y="82.16" width="7.67" height="7.72" fill="#529642"/>
<rect x="464.83" y="82.16" width="7.67" height="7.72" fill="#64a34c"/>
<rect x="471.80" y="82.16" width="7.67" height="7.72" fill="#64a34c"/>
<rect x="478.77" y="82.16" width="7.67" height="7.72" fill="#73ae5a"/>
<rect x="332.40" y="89.18" width="7.67" height="7.72" fill="#ecbebe"/>
<rect x="339.37" y="89.18" width="7.67" height="7.72" fill="#fcf5f5"/>
<rect x="346.34" y="89.18" width="7.67" height="7.72" fill="#cee4c6"/>
<rect x="353.31" y="89.18" width="7.67" height="7.72" fill="#8dc076"/>
<rect x="360.28" y="89.18" width="7.67" height="7.72" fill="#73ae5a"/>
<rect x="367.25" y="89.18" width="7.67" height="7.72" fill="#f8e6e6"/>
<rect x="374.22" y="89.18" width="7.67" height="7.72" fill="#fcf5f5"/>
<rect x="381.19" y="89.18" width="7.67" height="7.72" fill="#b2d5a3"/>
<rect x="388.16" y="89.18" width="7.67" height="7.72" fill="#e8b4b4"/>
<rect x="395.13" y="89.18" width="7.67" height="7.72" fill="#f8e6e6"/>
<rect x="402.10" y="89.18" width="7.67" height="7.72" fill="#ecbebe"/>
<rect x="409.07" y="89.18" width="7.67" height="7.72" fill="#ecbebe"/>
<rect x="416.04" y="89.18" width="7.67" height="7.72" fill="#f5faf4"/>
<rect x="423.01" y="89.18" width="7.67" height="7.72" fill="#6aa850"/>
<rect x="429.98" y="89.18" width="7.67" height="7.72" fill="#529642"/>
<rect x="436.95" y="89.18" width="7.67" height="7.72" fill="#80b768"/>
<rect x="443.92" y="89.18" width="7.67" height="7.72" fill="#f2cece"/>
<rect x="450.89" y="89.18" width="7.67" height="7.72" fill="#f5faf4"/>
<rect x="457.86" y="89.18" width="7.67" height="7.72" fill="#5b9c47"/>
<rect x="464.83" y="89.18" width="7.67" height="7.72" fill="#c3deb8"/>
<rect x="471.80" y="89.18" width="7.67" height="7.72" fill="#a1cc8e"/>
<rect x="478.77" y="89.18" width="7.67" height="7.72" fill="#d8e9d1"/>
<rect x="332.40" y="96.20" width="7.67" height="7.72" fill="#c3deb8"/>
<rect x="339.37" y="96.20" width="7.67" height="7.72" fill="#73ae5a"/>
<rect x="346.34" y="96.20" width="7.67" height="7.72" fill="#96c680"/>
<rect x="353.31" y="96.20" width="7.67" height="7.72" fill="#64a34c"/>
<rect x="360.28" y="96.20" width="7.67" height="7.72" fill="#96c680"/>
<rect x="367.25" y="96.20" width="7.67" height="7.72" fill="#e6f2e2"/>
<rect x="374.22" y="96.20" width="7.67" height="7.72" fill="#c3deb8"/>
<rect x="381.19" y="96.20" width="7.67" height="7.72" fill="#73ae5a"/>
<rect x="388.16" y="96.20" width="7.67" height="7.72" fill="#fcf5f5"/>
<rect x="395.13" y="96.20" width="7.67" height="7.72" fill="#c3deb8"/>
<rect x="402.10" y="96.20" width="7.67" height="7.72" fill="#cee4c6"/>
<rect x="409.07" y="96.20" width="7.67" height="7.72" fill="#f5faf4"/>
<rect x="416.04" y="96.20" width="7.67" height="7.72" fill="#96c680"/>
<rect x="423.01" y="96.20" width="7.67" height="7.72" fill="#6aa850"/>
<rect x="429.98" y="96.20" width="7.67" height="7.72" fill="#73ae5a"/>
<rect x="436.95" y="96.20" width="7.67" height="7.72" fill="#d8e9d1"/>
<rect x="443.92" y="96.20" width="7.67" height="7.72" fill="#a1cc8e"/>
<rect x="450.89" y="96.20" width="7.67" height="7.72" fill="#96c680"/>
<rect x="457.86" y="96.20" width="7.67" height="7.72" fill="#64a34c"/>
<rect x="464.83" y="96.20" width="7.67" height="7.72" fill="#96c680"/>
<rect x="471.80" y="96.20" width="7.67" height="7.72" fill="#8dc076"/>
<rect x="478.77" y="96.20" width="7.67" height="7.72" fill="#73ae5a"/>
<rect x="332.40" y="103.22" width="7.67" height="7.72" fill="#f8e6e6"/>
<rect x="339.37" y="103.22" width="7.67" height="7.72" fill="#e6f2e2"/>
<rect x="346.34" y="103.22" width="7.67" height="7.72" fill="#b2d5a3"/>
<rect x="353.31" y="103.22" width="7.67" height="7.72" fill="#64a34c"/>
<rect x="360.28" y="103.22" width="7.67" height="7.72" fill="#488d3c"/>
<rect x="367.25" y="103.22" width="7.67" height="7.72" fill="#fcf5f5"/>
<rect x="374.22" y="103.22" width="7.67" height="7.72" fill="#f8e6e6"/>
<rect x="381.19" y="103.22" width="7.67" height="7.72" fill="#b2d5a3"/>
<rect x="388.16" y="103.22" width="7.67" height="7.72" fill="#ecbebe"/>
<rect x="395.13" y="103.22" width="7.67" height="7.72" fill="#cee4c6"/>
<rect x="402.10" y="103.22" width="7.67" height="7.72" fill="#dc8787"/>
<rect x="409.07" y="103.22" width="7.67" height="7.72" fill="#fcf5f5"/>
<rect x="416.04" y="103.22" width="7.67" height="7.72" fill="#b2d5a3"/>
<rect x="423.01" y="103.22" width="7.67" height="7.72" fill="#6aa850"/>
<rect x="429.98" y="103.22" width="7.67" height="7.72" fill="#73ae5a"/>
<rect x="436.95" y="103.22" width="7.67" height="7.72" fill="#73ae5a"/>
<rect x="443.92" y="103.22" width="7.67" height="7.72" fill="#fcf5f5"/>
<rect x="450.89" y="103.22" width="7.67" height="7.72" fill="#96c680"/>
<rect x="457.86" y="103.22" width="7.67" height="7.72" fill="#5b9c47"/>
<rect x="464.83" y="103.22" width="7.67" height="7.72" fill="#c3deb8"/>
<rect x="471.80" y="103.22" width="7.67" height="7.72" fill="#b2d5a3"/>
<rect x="478.77" y="103.22" width="7.67" height="7.72" fill="#4c913e"/>
<rect x="332.40" y="110.24" width="7.67" height="7.72" fill="#f6dddd"/>
<rect x="339.37" y="110.24" width="7.67" height="7.72" fill="#b2d5a3"/>
<rect x="346.34" y="110.24" width="7.67" height="7.72" fill="#73ae5a"/>
<rect x="353.31" y="110.24" width="7.67" height="7.72" fill="#5b9c47"/>
<rect x="360.28" y="110.24" width="7.67" height="7.72" fill="#5b9c47"/>
<rect x="367.25" y="110.24" width="7.67" height="7.72" fill="#e8b4b4"/>
<rect x="374.22" y="110.24" width="7.67" height="7.72" fill="#fcf5f5"/>
<rect x="381.19" y="110.24" width="7.67" height="7.72" fill="#80b768"/>
<rect x="388.16" y="110.24" width="7.67" height="7.72" fill="#d56b6b"/>
<rect x="395.13" y="110.24" width="7.67" height="7.72" fill="#fcf5f5"/>
<rect x="402.10" y="110.24" width="7.67" height="7.72" fill="#d77575"/>
<rect x="409.07" y="110.24" width="7.67" height="7.72" fill="#d77575"/>
<rect x="416.04" y="110.24" width="7.67" height="7.72" fill="#d8e9d1"/>
<rect x="423.01" y="110.24" width="7.67" height="7.72" fill="#5b9c47"/>
<rect x="429.98" y="110.24" width="7.67" height="7.72" fill="#5b9c47"/>
<rect x="436.95" y="110.24" width="7.67" height="7.72" fill="#73ae5a"/>
<rect x="443.92" y="110.24" width="7.67" height="7.72" fill="#b2d5a3"/>
<rect x="450.89" y="110.24" width="7.67" height="7.72" fill="#5b9c47"/>
<rect x="457.86" y="110.24" width="7.67" height="7.72" fill="#4c913e"/>
<rect x="464.83" y="110.24" width="7.67" height="7.72" fill="#e6f2e2"/>
<rect x="471.80" y="110.24" width="7.67" height="7.72" fill="#73ae5a"/>
<rect x="478.77" y="110.24" width="7.67" height="7.72" fill="#64a34c"/>
<rect x="332.40" y="117.26" width="7.67" height="7.72" fill="#d56b6b"/>
<rect x="339.37" y="117.26" width="7.67" height="7.72" fill="#f2cece"/>
<rect x="346.34" y="117.26" width="7.67" height="7.72" fill="#cee4c6"/>
<rect x="353.31" y="117.26" width="7.67" height="7.72" fill="#8dc076"/>
<rect x="360.28" y="117.26" width="7.67" height="7.72" fill="#80b768"/>
<rect x="367.25" y="117.26" width="7.67" height="7.72" fill="#f6dddd"/>
<rect x="374.22" y="117.26" width="7.67" height="7.72" fill="#ffffff"/>
<rect x="381.19" y="117.26" width="7.67" height="7.72" fill="#b2d5a3"/>
<rect x="388.16" y="117.26" width="7.67" height="7.72" fill="#f5d8d8"/>
<rect x="395.13" y="117.26" width="7.67" height="7.72" fill="#d8e9d1"/>
<rect x="402.10" y="117.26" width="7.67" height="7.72" fill="#ffffff"/>
<rect x="409.07" y="117.26" width="7.67" height="7.72" fill="#ffffff"/>
<rect x="416.04" y="117.26" width="7.67" height="7.72" fill="#cee4c6"/>
<rect x="423.01" y="117.26" width="7.67" height="7.72" fill="#8dc076"/>
<rect x="429.98" y="117.26" width="7.67" height="7.72" fill="#8dc076"/>
<rect x="436.95" y="117.26" width="7.67" height="7.72" fill="#73ae5a"/>
<rect x="443.92" y="117.26" width="7.67" height="7.72" fill="#d36161"/>
<rect x="450.89" y="117.26" width="7.67" height="7.72" fill="#ffffff"/>
<rect x="457.86" y="117.26" width="7.67" height="7.72" fill="#73ae5a"/>
<rect x="464.83" y="117.26" width="7.67" height="7.72" fill="#ffffff"/>
<rect x="471.80" y="117.26" width="7.67" height="7.72" fill="#c3deb8"/>
<rect x="478.77" y="117.26" width="7.67" height="7.72" fill="#73ae5a"/>
<rect x="332.40" y="124.28" width="7.67" height="7.72" fill="#e4a7a7"/>
<rect x="339.37" y="124.28" width="7.67" height="7.72" fill="#cee4c6"/>
<rect x="346.34" y="124.28" width="7.67" height="7.72" fill="#80b768"/>
<rect x="353.31" y="124.28" width="7.67" height="7.72" fill="#5b9c47"/>
<rect x="360.28" y="124.28" width="7.67" height="7.72" fill="#5b9c47"/>
<rect x="367.25" y="124.28" width="7.67" height="7.72" fill="#ffffff"/>
<rect x="374.22" y="124.28" width="7.67" height="7.72" fill="#cee4c6"/>
<rect x="381.19" y="124.28" width="7.67" height="7.72" fill="#8dc076"/>
<rect x="388.16" y="124.28" width="7.67" height="7.72" fill="#f2cece"/>
<rect x="395.13" y="124.28" width="7.67" height="7.72" fill="#8dc076"/>
<rect x="402.10" y="124.28" width="7.67" height="7.72" fill="#f0c8c8"/>
<rect x="409.07" y="124.28" width="7.67" height="7.72" fill="#f2cece"/>
<rect x="416.04" y="124.28" width="7.67" height="7.72" fill="#cee4c6"/>
<rect x="423.01" y="124.28" width="7.67" height="7.72" fill="#5b9c47"/>
<rect x="429.98" y="124.28" width="7.67" height="7.72" fill="#5b9c47"/>
<rect x="436.95" y="124.28" width="7.67" height="7.72" fill="#5b9c47"/>
<rect x="443.92" y="124.28" width="7.67" height="7.72" fill="#c3deb8"/>
<rect x="450.89" y="124.28" width="7.67" height="7.72" fill="#64a34c"/>
<rect x="457.86" y="124.28" width="7.67" height="7.72" fill="#5b9c47"/>
<rect x="464.83" y="124.28" width="7.67" height="7.72" fill="#8dc076"/>
<rect x="471.80" y="124.28" width="7.67" height="7.72" fill="#64a34c"/>
<rect x="478.77" y="124.28" width="7.67" height="7.72" fill="#64a34c"/>
<rect x="332.40" y="131.30" width="7.67" height="7.72" fill="#d15353"/>
<rect x="339.37" y="131.30" width="7.67" height="7.72" fill="#f2cece"/>
<rect x="346.34" y="131.30" width="7.67" height="7.72" fill="#96c680"/>
<rect x="353.31" y="131.30" width="7.67" height="7.72" fill="#64a34c"/>
<rect x="360.28" y="131.30" width="7.67" height="7.72" fill="#6aa850"/>
<rect x="367.25" y="131.30" width="7.67" height="7.72" fill="#e4a7a7"/>
<rect x="374.22" y="131.30" width="7.67" height="7.72" fill="#fcf5f5"/>
<rect x="381.19" y="131.30" width="7.67" height="7.72" fill="#96c680"/>
<rect x="388.16" y="131.30" width="7.67" height="7.72" fill="#e4a7a7"/>
<rect x="395.13" y="131.30" width="7.67" height="7.72" fill="#d8e9d1"/>
<rect x="402.10" y="131.30" width="7.67" height="7.72" fill="#f0c8c8"/>
<rect x="409.07" y="131.30" width="7.67" height="7.72" fill="#f2cece"/>
<rect x="416.04" y="131.30" width="7.67" height="7.72" fill="#c3deb8"/>
<rect x="423.01" y="131.30" width="7.67" height="7.72" fill="#5b9c47"/>
<rect x="429.98" y="131.30" width="7.67" height="7.72" fill="#64a34c"/>
<rect x="436.95" y="131.30" width="7.67" height="7.72" fill="#73ae5a"/>
<rect x="443.92" y="131.30" width="7.67" height="7.72" fill="#d56b6b"/>
<rect x="450.89" y="131.30" width="7.67" height="7.72" fill="#b2d5a3"/>
<rect x="457.86" y="131.30" width="7.67" height="7.72" fill="#64a34c"/>
<rect x="464.83" y="131.30" width="7.67" height="7.72" fill="#a1cc8e"/>
<rect x="471.80" y="131.30" width="7.67" height="7.72" fill="#80b768"/>
<rect x="478.77" y="131.30" width="7.67" height="7.72" fill="#6aa850"/>
<rect x="332.40" y="138.32" width="7.67" height="7.72" fill="#f5d8d8"/>
<rect x="339.37" y="138.32" width="7.67" height="7.72" fill="#ffffff"/>
<rect x="346.34" y="138.32" width="7.67" height="7.72" fill="#cee4c6"/>
<rect x="353.31" y="138.32" width="7.67" height="7.72" fill="#b2d5a3"/>
<rect x="360.28" y="138.32" width="7.67" height="7.72" fill="#8dc076"/>
<rect x="367.25" y="138.32" width="7.67" height="7.72" fill="#d8e9d1"/>
<rect x="374.22" y="138.32" width="7.67" height="7.72" fill="#d8e9d1"/>
<rect x="381.19" y="138.32" width="7.67" height="7.72" fill="#b2d5a3"/>
<rect x="388.16" y="138.32" width="7.67" height="7.72" fill="#d8e9d1"/>
<rect x="395.13" y="138.32" width="7.67" height="7.72" fill="#c3deb8"/>
<rect x="402.10" y="138.32" width="7.67" height="7.72" fill="#a1cc8e"/>
<rect x="409.07" y="138.32" width="7.67" height="7.72" fill="#a1cc8e"/>
<rect x="416.04" y="138.32" width="7.67" height="7.72" fill="#96c680"/>
<rect x="423.01" y="138.32" width="7.67" height="7.72" fill="#b2d5a3"/>
<rect x="429.98" y="138.32" width="7.67" height="7.72" fill="#a1cc8e"/>
<rect x="436.95" y="138.32" width="7.67" height="7.72" fill="#96c680"/>
<rect x="443.92" y="138.32" width="7.67" height="7.72" fill="#ecbebe"/>
<rect x="450.89" y="138.32" width="7.67" height="7.72" fill="#f8e6e6"/>
<rect x="457.86" y="138.32" width="7.67" height="7.72" fill="#a1cc8e"/>
<rect x="464.83" y="138.32" width="7.67" height="7.72" fill="#96c680"/>
<rect x="471.80" y="138.32" width="7.67" height="7.72" fill="#8dc076"/>
<rect x="478.77" y="138.32" width="7.67" height="7.72" fill="#80b768"/>
<rect x="332.40" y="145.34" width="7.67" height="7.72" fill="#d15353"/>
<rect x="339.37" y="145.34" width="7.67" height="7.72" fill="#e19a9a"/>
<rect x="346.34" y="145.34" width="7.67" height="7.72" fill="#fcf5f5"/>
<rect x="353.31" y="145.34" width="7.67" height="7.72" fill="#e6f2e2"/>
<rect x="360.28" y="145.34" width="7.67" height="7.72" fill="#73ae5a"/>
<rect x="367.25" y="145.34" width="7.67" height="7.72" fill="#cc3a3a"/>
<rect x="374.22" y="145.34" width="7.67" height="7.72" fill="#d36161"/>
<rect x="381.19" y="145.34" width="7.67" height="7.72" fill="#f0c8c8"/>
<rect x="388.16" y="145.34" width="7.67" height="7.72" fill="#ce4444"/>
<rect x="395.13" y="145.34" width="7.67" height="7.72" fill="#d15353"/>
<rect x="402.10" y="145.34" width="7.67" height="7.72" fill="#d15353"/>
<rect x="409.07" y="145.34" width="7.67" height="7.72" fill="#d15353"/>
<rect x="416.04" y="145.34" width="7.67" height="7.72" fill="#e8b4b4"/>
<rect x="423.01" y="145.34" width="7.67" height="7.72" fill="#cee4c6"/>
<rect x="429.98" y="145.34" width="7.67" height="7.72" fill="#a1cc8e"/>
<rect x="436.95" y="145.34" width="7.67" height="7.72" fill="#96c680"/>
<rect x="443.92" y="145.34" width="7.67" height="7.72" fill="#e8b4b4"/>
<rect x="450.89" y="145.34" width="7.67" height="7.72" fill="#cee4c6"/>
<rect x="457.86" y="145.34" width="7.67" height="7.72" fill="#73ae5a"/>
<rect x="464.83" y="145.34" width="7.67" height="7.72" fill="#e8b4b4"/>
<rect x="471.80" y="145.34" width="7.67" height="7.72" fill="#f8e6e6"/>
<rect x="478.77" y="145.34" width="7.67" height="7.72" fill="#80b768"/>
<rect x="332.40" y="152.36" width="7.67" height="7.72" fill="#f2cece"/>
<rect x="339.37" y="152.36" width="7.67" height="7.72" fill="#b2d5a3"/>
<rect x="346.34" y="152.36" width="7.67" height="7.72" fill="#6aa850"/>
<rect x="353.31" y="152.36" width="7.67" height="7.72" fill="#6aa850"/>
<rect x="360.28" y="152.36" width="7.67" height="7.72" fill="#5b9c47"/>
<rect x="367.25" y="152.36" width="7.67" height="7.72" fill="#e6f2e2"/>
<rect x="374.22" y="152.36" width="7.67" height="7.72" fill="#96c680"/>
<rect x="381.19" y="152.36" width="7.67" height="7.72" fill="#96c680"/>
<rect x="388.16" y="152.36" width="7.67" height="7.72" fill="#fcf5f5"/>
<rect x="395.13" y="152.36" width="7.67" height="7.72" fill="#80b768"/>
<rect x="402.10" y="152.36" width="7.67" height="7.72" fill="#fcf5f5"/>
<rect x="409.07" y="152.36" width="7.67" height="7.72" fill="#fcf5f5"/>
<rect x="416.04" y="152.36" width="7.67" height="7.72" fill="#6aa850"/>
<rect x="423.01" y="152.36" width="7.67" height="7.72" fill="#80b768"/>
<rect x="429.98" y="152.36" width="7.67" height="7.72" fill="#73ae5a"/>
<rect x="436.95" y="152.36" width="7.67" height="7.72" fill="#73ae5a"/>
<rect x="443.92" y="152.36" width="7.67" height="7.72" fill="#e6f2e2"/>
<rect x="450.89" y="152.36" width="7.67" height="7.72" fill="#80b768"/>
<rect x="457.86" y="152.36" width="7.67" height="7.72" fill="#6aa850"/>
<rect x="464.83" y="152.36" width="7.67" height="7.72" fill="#73ae5a"/>
<rect x="471.80" y="152.36" width="7.67" height="7.72" fill="#73ae5a"/>
<rect x="478.77" y="152.36" width="7.67" height="7.72" fill="#73ae5a"/>
<rect x="332.40" y="159.38" width="7.67" height="7.72" fill="#cc3637"/>
<rect x="339.37" y="159.38" width="7.67" height="7.72" fill="#d36161"/>
<rect x="346.34" y="159.38" width="7.67" height="7.72" fill="#ecbebe"/>
<rect x="353.31" y="159.38" width="7.67" height="7.72" fill="#cee4c6"/>
<rect x="360.28" y="159.38" width="7.67" height="7.72" fill="#8dc076"/>
<rect x="367.25" y="159.38" width="7.67" height="7.72" fill="#cc3a3a"/>
<rect x="374.22" y="159.38" width="7.67" height="7.72" fill="#ce4444"/>
<rect x="381.19" y="159.38" width="7.67" height="7.72" fill="#f5d8d8"/>
<rect x="388.16" y="159.38" width="7.67" height="7.72" fill="#cc3637"/>
<rect x="395.13" y="159.38" width="7.67" height="7.72" fill="#d15353"/>
<rect x="402.10" y="159.38" width="7.67" height="7.72" fill="#cc3637"/>
<rect x="409.07" y="159.38" width="7.67" height="7.72" fill="#cc3637"/>
<rect x="416.04" y="159.38" width="7.67" height="7.72" fill="#f0c8c8"/>
<rect x="423.01" y="159.38" width="7.67" height="7.72" fill="#b2d5a3"/>
<rect x="429.98" y="159.38" width="7.67" height="7.72" fill="#80b768"/>
<rect x="436.95" y="159.38" width="7.67" height="7.72" fill="#80b768"/>
<rect x="443.92" y="159.38" width="7.67" height="7.72" fill="#d15353"/>
<rect x="450.89" y="159.38" width="7.67" height="7.72" fill="#fcf5f5"/>
<rect x="457.86" y="159.38" width="7.67" height="7.72" fill="#73ae5a"/>
<rect x="464.83" y="159.38" width="7.67" height="7.72" fill="#dc8787"/>
<rect x="471.80" y="159.38" width="7.67" height="7.72" fill="#f8e6e6"/>
<rect x="478.77" y="159.38" width="7.67" height="7.72" fill="#73ae5a"/>
<rect x="332.40" y="166.40" width="7.67" height="7.72" fill="#d56b6b"/>
<rect x="339.37" y="166.40" width="7.67" height="7.72" fill="#f5d8d8"/>
<rect x="346.34" y="166.40" width="7.67" height="7.72" fill="#c3deb8"/>
<rect x="353.31" y="166.40" width="7.67" height="7.72" fill="#80b768"/>
<rect x="360.28" y="166.40" width="7.67" height="7.72" fill="#73ae5a"/>
<rect x="367.25" y="166.40" width="7.67" height="7.72" fill="#cc3a3a"/>
<rect x="374.22" y="166.40" width="7.67" height="7.72" fill="#d15353"/>
<rect x="381.19" y="166.40" width="7.67" height="7.72" fill="#e6f2e2"/>
<rect x="388.16" y="166.40" width="7.67" height="7.72" fill="#cc3637"/>
<rect x="395.13" y="166.40" width="7.67" height="7.72" fill="#d15353"/>
<rect x="402.10" y="166.40" width="7.67" height="7.72" fill="#cc3637"/>
<rect x="409.07" y="166.40" width="7.67" height="7.72" fill="#cc3637"/>
<rect x="416.04" y="166.40" width="7.67" height="7.72" fill="#e8b4b4"/>
<rect x="423.01" y="166.40" width="7.67" height="7.72" fill="#96c680"/>
<rect x="429.98" y="166.40" width="7.67" height="7.72" fill="#8dc076"/>
<rect x="436.95" y="166.40" width="7.67" height="7.72" fill="#8dc076"/>
<rect x="443.92" y="166.40" width="7.67" height="7.72" fill="#a1cc8e"/>
<rect x="450.89" y="166.40" width="7.67" height="7.72" fill="#5b9c47"/>
<rect x="457.86" y="166.40" width="7.67" height="7.72" fill="#5b9c47"/>
<rect x="464.83" y="166.40" width="7.67" height="7.72" fill="#fcf5f5"/>
<rect x="471.80" y="166.40" width="7.67" height="7.72" fill="#b2d5a3"/>
<rect x="478.77" y="166.40" width="7.67" height="7.72" fill="#73ae5a"/>
<rect x="332.40" y="173.42" width="7.67" height="7.72" fill="#d56b6b"/>
<rect x="339.37" y="173.42" width="7.67" height="7.72" fill="#f2cece"/>
<rect x="346.34" y="173.42" width="7.67" height="7.72" fill="#c3deb8"/>
<rect x="353.31" y="173.42" width="7.67" height="7.72" fill="#6aa850"/>
<rect x="360.28" y="173.42" width="7.67" height="7.72" fill="#5b9c47"/>
<rect x="367.25" y="173.42" width="7.67" height="7.72" fill="#d8e9d1"/>
<rect x="374.22" y="173.42" width="7.67" height="7.72" fill="#b2d5a3"/>
<rect x="381.19" y="173.42" width="7.67" height="7.72" fill="#64a34c"/>
<rect x="388.16" y="173.42" width="7.67" height="7.72" fill="#cee4c6"/>
<rect x="395.13" y="173.42" width="7.67" height="7.72" fill="#8dc076"/>
<rect x="402.10" y="173.42" width="7.67" height="7.72" fill="#b2d5a3"/>
<rect x="409.07" y="173.42" width="7.67" height="7.72" fill="#b2d5a3"/>
<rect x="416.04" y="173.42" width="7.67" height="7.72" fill="#64a34c"/>
<rect x="423.01" y="173.42" width="7.67" height="7.72" fill="#64a34c"/>
<rect x="429.98" y="173.42" width="7.67" height="7.72" fill="#64a34c"/>
<rect x="436.95" y="173.42" width="7.67" height="7.72" fill="#5b9c47"/>
<rect x="443.92" y="173.42" width="7.67" height="7.72" fill="#d56b6b"/>
<rect x="450.89" y="173.42" width="7.67" height="7.72" fill="#fcf5f5"/>
<rect x="457.86" y="173.42" width="7.67" height="7.72" fill="#73ae5a"/>
<rect x="464.83" y="173.42" width="7.67" height="7.72" fill="#96c680"/>
<rect x="471.80" y="173.42" width="7.67" height="7.72" fill="#64a34c"/>
<rect x="478.77" y="173.42" width="7.67" height="7.72" fill="#529642"/>
<rect x="332.40" y="180.44" width="7.67" height="7.72" fill="#d56b6b"/>
<rect x="339.37" y="180.44" width="7.67" height="7.72" fill="#f0c8c8"/>
<rect x="346.34" y="180.44" width="7.67" height="7.72" fill="#c3deb8"/>
<rect x="353.31" y="180.44" width="7.67" height="7.72" fill="#73ae5a"/>
<rect x="360.28" y="180.44" width="7.67" height="7.72" fill="#73ae5a"/>
<rect x="367.25" y="180.44" width="7.67" height="7.72" fill="#d36161"/>
<rect x="374.22" y="180.44" width="7.67" height="7.72" fill="#e19a9a"/>
<rect x="381.19" y="180.44" width="7.67" height="7.72" fill="#c3deb8"/>
<rect x="388.16" y="180.44" width="7.67" height="7.72" fill="#d36161"/>
<rect x="395.13" y="180.44" width="7.67" height="7.72" fill="#e8b4b4"/>
<rect x="402.10" y="180.44" width="7.67" height="7.72" fill="#d77575"/>
<rect x="409.07" y="180.44" width="7.67" height="7.72" fill="#e4a7a7"/>
<rect x="416.04" y="180.44" width="7.67" height="7.72" fill="#b2d5a3"/>
<rect x="423.01" y="180.44" width="7.67" height="7.72" fill="#73ae5a"/>
<rect x="429.98" y="180.44" width="7.67" height="7.72" fill="#73ae5a"/>
<rect x="436.95" y="180.44" width="7.67" height="7.72" fill="#6aa850"/>
<rect x="443.92" y="180.44" width="7.67" height="7.72" fill="#d77575"/>
<rect x="450.89" y="180.44" width="7.67" height="7.72" fill="#b2d5a3"/>
<rect x="457.86" y="180.44" width="7.67" height="7.72" fill="#6aa850"/>
<rect x="464.83" y="180.44" width="7.67" height="7.72" fill="#ecbebe"/>
<rect x="471.80" y="180.44" width="7.67" height="7.72" fill="#c3deb8"/>
<rect x="478.77" y="180.44" width="7.67" height="7.72" fill="#6aa850"/>
<rect x="332.40" y="187.46" width="7.67" height="7.72" fill="#d36161"/>
<rect x="339.37" y="187.46" width="7.67" height="7.72" fill="#ecbebe"/>
<rect x="346.34" y="187.46" width="7.67" height="7.72" fill="#fbf0f0"/>
<rect x="353.31" y="187.46" width="7.67" height="7.72" fill="#b2d5a3"/>
<rect x="360.28" y="187.46" width="7.67" height="7.72" fill="#80b768"/>
<rect x="367.25" y="187.46" width="7.67" height="7.72" fill="#d56b6b"/>
<rect x="374.22" y="187.46" width="7.67" height="7.72" fill="#d77575"/>
<rect x="381.19" y="187.46" width="7.67" height="7.72" fill="#f0c8c8"/>
<rect x="388.16" y="187.46" width="7.67" height="7.72" fill="#d56b6b"/>
<rect x="395.13" y="187.46" width="7.67" height="7.72" fill="#e19a9a"/>
<rect x="402.10" y="187.46" width="7.67" height="7.72" fill="#d77575"/>
<rect x="409.07" y="187.46" width="7.67" height="7.72" fill="#e19a9a"/>
<rect x="416.04" y="187.46" width="7.67" height="7.72" fill="#f0c8c8"/>
<rect x="423.01" y="187.46" width="7.67" height="7.72" fill="#b2d5a3"/>
<rect x="429.98" y="187.46" width="7.67" height="7.72" fill="#b2d5a3"/>
<rect x="436.95" y="187.46" width="7.67" height="7.72" fill="#6aa850"/>
<rect x="443.92" y="187.46" width="7.67" height="7.72" fill="#f0c8c8"/>
<rect x="450.89" y="187.46" width="7.67" height="7.72" fill="#cee4c6"/>
<rect x="457.86" y="187.46" width="7.67" height="7.72" fill="#5b9c47"/>
<rect x="464.83" y="187.46" width="7.67" height="7.72" fill="#f0c8c8"/>
<rect x="471.80" y="187.46" width="7.67" height="7.72" fill="#ffffff"/>
<rect x="478.77" y="187.46" width="7.67" height="7.72" fill="#73ae5a"/>
<line x1="388.16" y1="26.0" x2="388.16" y2="194.48" stroke="#222" stroke-width="1.1"/>
<line x1="402.10" y1="26.0" x2="402.10" y2="194.48" stroke="#222" stroke-width="1.1"/>
<line x1="423.01" y1="26.0" x2="423.01" y2="194.48" stroke="#222" stroke-width="1.1"/>
<line x1="443.92" y1="26.0" x2="443.92" y2="194.48" stroke="#222" stroke-width="1.1"/>
<line x1="464.83" y1="26.0" x2="464.83" y2="194.48" stroke="#222" stroke-width="1.1"/>
<rect x="332.4" y="26.0" width="153.34" height="168.48" fill="none" stroke="#222" stroke-width="0.9"/>
<text x="324.7" y="32.2" font-size="6.3" fill="#1a1a1a" text-anchor="end" font-weight="normal" stroke="#1a1a1a" stroke-width="0.08" >1</text>
<text x="324.7" y="39.22" font-size="6.3" fill="#1a1a1a" text-anchor="end" font-weight="normal" stroke="#1a1a1a" stroke-width="0.08" >2</text>
<text x="324.7" y="46.24" font-size="6.3" fill="#1a1a1a" text-anchor="end" font-weight="normal" stroke="#1a1a1a" stroke-width="0.08" >3</text>
<text x="324.7" y="53.260000000000005" font-size="6.3" fill="#1a1a1a" text-anchor="end" font-weight="normal" stroke="#1a1a1a" stroke-width="0.08" >4</text>
<text x="324.7" y="60.28" font-size="6.3" fill="#1a1a1a" text-anchor="end" font-weight="normal" stroke="#1a1a1a" stroke-width="0.08" >5</text>
<text x="324.7" y="67.3" font-size="6.3" fill="#1a1a1a" text-anchor="end" font-weight="normal" stroke="#1a1a1a" stroke-width="0.08" >6</text>
<text x="324.7" y="74.32000000000001" font-size="6.3" fill="#1a1a1a" text-anchor="end" font-weight="normal" stroke="#1a1a1a" stroke-width="0.08" >7</text>
<text x="324.7" y="81.34" font-size="6.3" fill="#1a1a1a" text-anchor="end" font-weight="normal" stroke="#1a1a1a" stroke-width="0.08" >8</text>
<text x="324.7" y="88.36" font-size="6.3" fill="#1a1a1a" text-anchor="end" font-weight="normal" stroke="#1a1a1a" stroke-width="0.08" >9</text>
<text x="324.7" y="95.38" font-size="6.3" fill="#1a1a1a" text-anchor="end" font-weight="normal" stroke="#1a1a1a" stroke-width="0.08" >10</text>
<text x="324.7" y="102.39999999999999" font-size="6.3" fill="#1a1a1a" text-anchor="end" font-weight="normal" stroke="#1a1a1a" stroke-width="0.08" >11</text>
<text x="324.7" y="109.42" font-size="6.3" fill="#1a1a1a" text-anchor="end" font-weight="normal" stroke="#1a1a1a" stroke-width="0.08" >12</text>
<text x="324.7" y="116.44" font-size="6.3" fill="#1a1a1a" text-anchor="end" font-weight="normal" stroke="#1a1a1a" stroke-width="0.08" >13</text>
<text x="324.7" y="123.46" font-size="6.3" fill="#1a1a1a" text-anchor="end" font-weight="normal" stroke="#1a1a1a" stroke-width="0.08" >14</text>
<text x="324.7" y="130.48" font-size="6.3" fill="#1a1a1a" text-anchor="end" font-weight="normal" stroke="#1a1a1a" stroke-width="0.08" >15</text>
<text x="324.7" y="137.5" font-size="6.3" fill="#1a1a1a" text-anchor="end" font-weight="normal" stroke="#1a1a1a" stroke-width="0.08" >16</text>
<text x="324.7" y="144.51999999999998" font-size="6.3" fill="#1a1a1a" text-anchor="end" font-weight="normal" stroke="#1a1a1a" stroke-width="0.08" >17</text>
<text x="324.7" y="151.53999999999996" font-size="6.3" fill="#1a1a1a" text-anchor="end" font-weight="normal" stroke="#1a1a1a" stroke-width="0.08" >18</text>
<text x="324.7" y="158.55999999999997" font-size="6.3" fill="#1a1a1a" text-anchor="end" font-weight="normal" stroke="#1a1a1a" stroke-width="0.08" >19</text>
<text x="324.7" y="165.57999999999998" font-size="6.3" fill="#1a1a1a" text-anchor="end" font-weight="normal" stroke="#1a1a1a" stroke-width="0.08" >20</text>
<text x="324.7" y="172.59999999999997" font-size="6.3" fill="#1a1a1a" text-anchor="end" font-weight="normal" stroke="#1a1a1a" stroke-width="0.08" >21</text>
<text x="324.7" y="179.61999999999998" font-size="6.3" fill="#1a1a1a" text-anchor="end" font-weight="normal" stroke="#1a1a1a" stroke-width="0.08" >22</text>
<text x="324.7" y="186.64" font-size="6.3" fill="#1a1a1a" text-anchor="end" font-weight="normal" stroke="#1a1a1a" stroke-width="0.08" >23</text>
<text x="324.7" y="193.65999999999997" font-size="6.3" fill="#1a1a1a" text-anchor="end" font-weight="normal" stroke="#1a1a1a" stroke-width="0.08" >24</text>
<rect x="491.5" y="26" width="6.6" height="168.5" fill="url(#gcb)" stroke="#666" stroke-width="0.5"/>
<text x="502.4" y="28.15" font-size="5.9" fill="#1a1a1a" text-anchor="start" font-weight="normal" stroke="#1a1a1a" stroke-width="0.1" >100</text>
<text x="502.4" y="61.84999999999999" font-size="5.9" fill="#1a1a1a" text-anchor="start" font-weight="normal" stroke="#1a1a1a" stroke-width="0.1" >80</text>
<line x1="491.5" y1="59.7" x2="492.5" y2="59.7" stroke="#444" stroke-width="0.5"/><line x1="497.1" y1="59.7" x2="498.1" y2="59.7" stroke="#444" stroke-width="0.5"/>
<text x="502.4" y="95.55" font-size="5.9" fill="#1a1a1a" text-anchor="start" font-weight="normal" stroke="#1a1a1a" stroke-width="0.1" >60</text>
<line x1="491.5" y1="93.4" x2="492.5" y2="93.4" stroke="#444" stroke-width="0.5"/><line x1="497.1" y1="93.4" x2="498.1" y2="93.4" stroke="#444" stroke-width="0.5"/>
<text x="502.4" y="129.25" font-size="5.9" fill="#1a1a1a" text-anchor="start" font-weight="normal" stroke="#1a1a1a" stroke-width="0.1" >40</text>
<line x1="491.5" y1="127.1" x2="492.5" y2="127.1" stroke="#444" stroke-width="0.5"/><line x1="497.1" y1="127.1" x2="498.1" y2="127.1" stroke="#444" stroke-width="0.5"/>
<text x="502.4" y="162.95000000000002" font-size="5.9" fill="#1a1a1a" text-anchor="start" font-weight="normal" stroke="#1a1a1a" stroke-width="0.1" >20</text>
<line x1="491.5" y1="160.8" x2="492.5" y2="160.8" stroke="#444" stroke-width="0.5"/><line x1="497.1" y1="160.8" x2="498.1" y2="160.8" stroke="#444" stroke-width="0.5"/>
<text x="502.4" y="196.65" font-size="5.9" fill="#1a1a1a" text-anchor="start" font-weight="normal" stroke="#1a1a1a" stroke-width="0.1" >0</text>
<path d="M332.5,196.4 L366.8,204.1 L332.5,204.1 Z" fill="#e8961e"/>
<path d="M367.8,196.4 L387,204.1 L367.8,204.1 Z" fill="#e8961e"/>
<path d="M389.4,196.4 L402,204.1 L389.4,204.1 Z" fill="#5aa0d8"/>
<path d="M402.9,196.4 L422.3,204.1 L402.9,204.1 Z" fill="#5aa0d8"/>
<path d="M423.8,196.4 L442.5,204.1 L423.8,204.1 Z" fill="#5aa0d8"/>
<path d="M444.6,196.4 L463.8,204.1 L444.6,204.1 Z" fill="#5aa0d8"/>
<path d="M465.5,196.4 L485.5,204.1 L465.5,204.1 Z" fill="#5aa0d8"/>
<text x="360.7" y="210.4" font-size="6.9" fill="#2a2a2a" text-anchor="middle" font-weight="normal" textLength="44.6" lengthAdjust="spacingAndGlyphs" >Overall priming</text>
<text x="437.6" y="210.3" font-size="6.9" fill="#2a2a2a" text-anchor="middle" font-weight="normal" textLength="63.5" lengthAdjust="spacingAndGlyphs" >Specific dependencies</text>
<rect x="332.8" y="212.4" width="55" height="39.8" fill="none" stroke="#eaa850" stroke-width="1.1"/>
<line x1="368.5" y1="212.4" x2="368.5" y2="252.2" stroke="#eaa850" stroke-width="1"/>
<line x1="332.3" y1="212.3" x2="388" y2="212.3" stroke="#eaa850" stroke-width="1.5"/>
<rect x="389" y="212.4" width="97.3" height="39.6" fill="none" stroke="#8cc0ec" stroke-width="1.1"/>
<line x1="388.6" y1="212.3" x2="486.6" y2="212.3" stroke="#8cc0ec" stroke-width="1.5"/>
<line x1="403.2" y1="212.4" x2="403.2" y2="252" stroke="#8cc0ec" stroke-width="1"/>
<line x1="423.3" y1="212.4" x2="423.3" y2="252" stroke="#8cc0ec" stroke-width="1"/>
<line x1="444.5" y1="212.4" x2="444.5" y2="252" stroke="#8cc0ec" stroke-width="1"/>
<line x1="465.6" y1="212.4" x2="465.6" y2="252" stroke="#8cc0ec" stroke-width="1"/>
<text transform="translate(338.28,215.6) rotate(-90)" font-size="5.7" text-anchor="end" textLength="28.2" lengthAdjust="spacingAndGlyphs"><tspan font-weight="bold" fill="#111">BIM:</tspan><tspan fill="#7a7a7a"> 0.1 µM</tspan></text>
<text transform="translate(345.25,215.6) rotate(-90)" font-size="5.7" text-anchor="end" textLength="30.3" lengthAdjust="spacingAndGlyphs"><tspan font-weight="bold" fill="#111">BIM:</tspan><tspan fill="#7a7a7a"> 0.05 µM</tspan></text>
<text transform="translate(352.22,215.6) rotate(-90)" font-size="5.7" text-anchor="end" textLength="33.1" lengthAdjust="spacingAndGlyphs"><tspan font-weight="bold" fill="#111">BIM:</tspan><tspan fill="#7a7a7a"> 0.025 µM</tspan></text>
<text transform="translate(359.19,215.6) rotate(-90)" font-size="5.7" text-anchor="end" textLength="30.3" lengthAdjust="spacingAndGlyphs"><tspan font-weight="bold" fill="#111">BIM:</tspan><tspan fill="#7a7a7a"> 0.01 µM</tspan></text>
<text transform="translate(366.16,215.6) rotate(-90)" font-size="5.7" text-anchor="end" textLength="33.1" lengthAdjust="spacingAndGlyphs"><tspan font-weight="bold" fill="#111">BIM:</tspan><tspan fill="#7a7a7a"> 0.005 µM</tspan></text>
<text transform="translate(373.13,215.6) rotate(-90)" font-size="5.7" text-anchor="end" textLength="28.9" lengthAdjust="spacingAndGlyphs"><tspan font-weight="bold" fill="#111">PUMA:</tspan><tspan fill="#7a7a7a"> 1 µM</tspan></text>
<text transform="translate(380.10,215.6) rotate(-90)" font-size="5.7" text-anchor="end" textLength="33.8" lengthAdjust="spacingAndGlyphs"><tspan font-weight="bold" fill="#111">PUMA:</tspan><tspan fill="#7a7a7a"> 0.5 µM</tspan></text>
<text transform="translate(387.07,215.6) rotate(-90)" font-size="5.7" text-anchor="end" textLength="33.8" lengthAdjust="spacingAndGlyphs"><tspan font-weight="bold" fill="#111">PUMA:</tspan><tspan fill="#7a7a7a"> 0.1 µM</tspan></text>
<text transform="translate(394.04,215.6) rotate(-90)" font-size="5.7" text-anchor="end" textLength="24.7" lengthAdjust="spacingAndGlyphs"><tspan font-weight="bold" fill="#111">BAD:</tspan><tspan fill="#7a7a7a"> 1 µM</tspan></text>
<text transform="translate(401.01,215.6) rotate(-90)" font-size="5.7" text-anchor="end" textLength="29.6" lengthAdjust="spacingAndGlyphs"><tspan font-weight="bold" fill="#111">BAD:</tspan><tspan fill="#7a7a7a"> 0.1 µM</tspan></text>
<text transform="translate(407.98,215.6) rotate(-90)" font-size="5.7" text-anchor="end" textLength="28.9" lengthAdjust="spacingAndGlyphs"><tspan font-weight="bold" fill="#111">VEN:</tspan><tspan fill="#7a7a7a"> 0.5 µM</tspan></text>
<text transform="translate(414.95,215.6) rotate(-90)" font-size="5.7" text-anchor="end" textLength="28.9" lengthAdjust="spacingAndGlyphs"><tspan font-weight="bold" fill="#111">VEN:</tspan><tspan fill="#7a7a7a"> 0.1 µM</tspan></text>
<text transform="translate(421.92,215.6) rotate(-90)" font-size="5.7" text-anchor="end" textLength="32.1" lengthAdjust="spacingAndGlyphs"><tspan font-weight="bold" fill="#111">VEN:</tspan><tspan fill="#7a7a7a"> 0.01 µM</tspan></text>
<text transform="translate(428.89,215.6) rotate(-90)" font-size="5.7" text-anchor="end" textLength="27.5" lengthAdjust="spacingAndGlyphs"><tspan font-weight="bold" fill="#111">HRK:</tspan><tspan fill="#7a7a7a"> 10 µM</tspan></text>
<text transform="translate(435.86,215.6) rotate(-90)" font-size="5.7" text-anchor="end" textLength="24.7" lengthAdjust="spacingAndGlyphs"><tspan font-weight="bold" fill="#111">HRK:</tspan><tspan fill="#7a7a7a"> 5 µM</tspan></text>
<text transform="translate(442.83,215.6) rotate(-90)" font-size="5.7" text-anchor="end" textLength="24.7" lengthAdjust="spacingAndGlyphs"><tspan font-weight="bold" fill="#111">HRK:</tspan><tspan fill="#7a7a7a"> 1 µM</tspan></text>
<text transform="translate(449.80,215.6) rotate(-90)" font-size="5.7" text-anchor="end" textLength="27.1" lengthAdjust="spacingAndGlyphs"><tspan font-weight="bold" fill="#111">MS1:</tspan><tspan fill="#7a7a7a"> 10 µM</tspan></text>
<text transform="translate(456.77,215.6) rotate(-90)" font-size="5.7" text-anchor="end" textLength="24.3" lengthAdjust="spacingAndGlyphs"><tspan font-weight="bold" fill="#111">MS1:</tspan><tspan fill="#7a7a7a"> 5 µM</tspan></text>
<text transform="translate(463.74,215.6) rotate(-90)" font-size="5.7" text-anchor="end" textLength="24.3" lengthAdjust="spacingAndGlyphs"><tspan font-weight="bold" fill="#111">MS1:</tspan><tspan fill="#7a7a7a"> 1 µM</tspan></text>
<text transform="translate(470.71,215.6) rotate(-90)" font-size="5.7" text-anchor="end" textLength="25.7" lengthAdjust="spacingAndGlyphs"><tspan font-weight="bold" fill="#111">FS1:</tspan><tspan fill="#7a7a7a"> 10 µM</tspan></text>
<text transform="translate(477.68,215.6) rotate(-90)" font-size="5.7" text-anchor="end" textLength="22.6" lengthAdjust="spacingAndGlyphs"><tspan font-weight="bold" fill="#111">FS1:</tspan><tspan fill="#7a7a7a"> 5 µM</tspan></text>
<text transform="translate(484.65,215.6) rotate(-90)" font-size="5.7" text-anchor="end" textLength="22.6" lengthAdjust="spacingAndGlyphs"><tspan font-weight="bold" fill="#111">FS1:</tspan><tspan fill="#7a7a7a"> 1 µM</tspan></text>
<text x="396.2" y="258.6" font-size="4.8" fill="#444" text-anchor="middle" font-weight="normal" >BCL2</text>
<text x="413.4" y="258.6" font-size="4.8" fill="#444" text-anchor="middle" font-weight="normal" >BCL2</text>
<text x="433.6" y="258.6" font-size="4.8" fill="#444" text-anchor="middle" font-weight="normal" >BCLxL</text>
<text x="454.2" y="258.6" font-size="4.8" fill="#444" text-anchor="middle" font-weight="normal" >MCL1</text>
<text x="475.4" y="258.6" font-size="4.8" fill="#444" text-anchor="middle" font-weight="normal" >BFL1</text>
<text x="396.1" y="263.4" font-size="4.8" fill="#444" text-anchor="middle" font-weight="normal" >and</text>
<text x="396.1" y="268.2" font-size="4.8" fill="#444" text-anchor="middle" font-weight="normal" >BCLxL</text>
<text x="65.2" y="190.8" font-size="8.6" fill="#1a1a1a" text-anchor="middle" font-weight="normal" textLength="59.6" lengthAdjust="spacingAndGlyphs" stroke="#1a1a1a" stroke-width="0.2" >Overall priming</text>
<text x="65.0" y="201.0" font-size="8.6" fill="#1a1a1a" text-anchor="middle" font-weight="normal" textLength="54.4" lengthAdjust="spacingAndGlyphs" stroke="#1a1a1a" stroke-width="0.2" >(BIM: 0.05µM)</text>
<line x1="36.4" y1="210.2" x2="36.4" y2="299.6" stroke="#111" stroke-width="1.2"/>
<line x1="35.8" y1="299.6" x2="94.4" y2="299.6" stroke="#111" stroke-width="1.2"/>
<line x1="34.80" y1="295.92" x2="36.4" y2="295.92" stroke="#111" stroke-width="0.8"/>
<line x1="33.00" y1="292.30" x2="36.4" y2="292.30" stroke="#111" stroke-width="0.8"/>
<line x1="34.80" y1="288.69" x2="36.4" y2="288.69" stroke="#111" stroke-width="0.8"/>
<line x1="34.80" y1="285.07" x2="36.4" y2="285.07" stroke="#111" stroke-width="0.8"/>
<line x1="34.80" y1="281.45" x2="36.4" y2="281.45" stroke="#111" stroke-width="0.8"/>
<line x1="34.80" y1="277.84" x2="36.4" y2="277.84" stroke="#111" stroke-width="0.8"/>
<line x1="34.80" y1="274.23" x2="36.4" y2="274.23" stroke="#111" stroke-width="0.8"/>
<line x1="34.80" y1="270.61" x2="36.4" y2="270.61" stroke="#111" stroke-width="0.8"/>
<line x1="34.80" y1="267.00" x2="36.4" y2="267.00" stroke="#111" stroke-width="0.8"/>
<line x1="34.80" y1="263.38" x2="36.4" y2="263.38" stroke="#111" stroke-width="0.8"/>
<line x1="34.80" y1="259.76" x2="36.4" y2="259.76" stroke="#111" stroke-width="0.8"/>
<line x1="33.00" y1="256.15" x2="36.4" y2="256.15" stroke="#111" stroke-width="0.8"/>
<line x1="34.80" y1="252.53" x2="36.4" y2="252.53" stroke="#111" stroke-width="0.8"/>
<line x1="34.80" y1="248.92" x2="36.4" y2="248.92" stroke="#111" stroke-width="0.8"/>
<line x1="34.80" y1="245.31" x2="36.4" y2="245.31" stroke="#111" stroke-width="0.8"/>
<line x1="34.80" y1="241.69" x2="36.4" y2="241.69" stroke="#111" stroke-width="0.8"/>
<line x1="34.80" y1="238.07" x2="36.4" y2="238.07" stroke="#111" stroke-width="0.8"/>
<line x1="34.80" y1="234.46" x2="36.4" y2="234.46" stroke="#111" stroke-width="0.8"/>
<line x1="34.80" y1="230.84" x2="36.4" y2="230.84" stroke="#111" stroke-width="0.8"/>
<line x1="34.80" y1="227.23" x2="36.4" y2="227.23" stroke="#111" stroke-width="0.8"/>
<line x1="34.80" y1="223.62" x2="36.4" y2="223.62" stroke="#111" stroke-width="0.8"/>
<line x1="33.00" y1="220.00" x2="36.4" y2="220.00" stroke="#111" stroke-width="0.8"/>
<line x1="34.80" y1="216.38" x2="36.4" y2="216.38" stroke="#111" stroke-width="0.8"/>
<line x1="34.80" y1="212.77" x2="36.4" y2="212.77" stroke="#111" stroke-width="0.8"/>
<text x="30.099999999999998" y="294.5" font-size="6.2" fill="#1a1a1a" text-anchor="end" font-weight="normal" stroke="#1a1a1a" stroke-width="0.15" >0</text>
<text x="30.099999999999998" y="258.34999999999997" font-size="6.2" fill="#1a1a1a" text-anchor="end" font-weight="normal" stroke="#1a1a1a" stroke-width="0.15" >50</text>
<text x="30.099999999999998" y="222.2" font-size="6.2" fill="#1a1a1a" text-anchor="end" font-weight="normal" stroke="#1a1a1a" stroke-width="0.15" >100</text>
<line x1="37.0" y1="292.3" x2="94.4" y2="292.3" stroke="#111" stroke-width="0.9" stroke-dasharray="1.4,0.8"/>
<line x1="53.1" y1="299.6" x2="53.1" y2="302.4" stroke="#111" stroke-width="0.8"/>
<line x1="77.4" y1="299.6" x2="77.4" y2="302.4" stroke="#111" stroke-width="0.8"/>
<text x="53.1" y="311.6" font-size="5.7" fill="#1a1a1a" text-anchor="middle" font-weight="normal" stroke="#1a1a1a" stroke-width="0.15" >CLL</text>
<text x="77.4" y="311.6" font-size="5.7" fill="#1a1a1a" text-anchor="middle" font-weight="normal" stroke="#1a1a1a" stroke-width="0.15" >T-PLL</text>
<text transform="translate(11.7,254.75) rotate(-90)" font-size="6.4" fill="#1a1a1a" stroke="#1a1a1a" stroke-width="0.2" text-anchor="middle" textLength="66" lengthAdjust="spacingAndGlyphs">Cytochrome C loss (%)</text>
<path d="M52.3,216.5 L52.3,212.9 L78,212.9 L78,216.5" fill="none" stroke="#1a1a1a" stroke-width="1.1"/>
<circle cx="61.25" cy="210.15" r="0.85" fill="#222"/>
<circle cx="63.85" cy="210.15" r="0.85" fill="#222"/>
<circle cx="66.45" cy="210.15" r="0.85" fill="#222"/>
<circle cx="69.05" cy="210.15" r="0.85" fill="#222"/>
<circle cx="45.5" cy="225.6" r="1.3" fill="none" stroke="#c4466c" stroke-width="0.95"/>
<circle cx="48.6" cy="223.6" r="1.3" fill="none" stroke="#c4466c" stroke-width="0.95"/>
<circle cx="48.9" cy="226.25" r="1.3" fill="none" stroke="#c4466c" stroke-width="0.95"/>
<circle cx="51.3" cy="227.2" r="1.3" fill="none" stroke="#c4466c" stroke-width="0.95"/>
<circle cx="53.6" cy="226.7" r="1.3" fill="none" stroke="#c4466c" stroke-width="0.95"/>
<circle cx="54.9" cy="226.25" r="1.3" fill="none" stroke="#c4466c" stroke-width="0.95"/>
<circle cx="57.5" cy="225.6" r="1.3" fill="none" stroke="#c4466c" stroke-width="0.95"/>
<circle cx="60.3" cy="225.2" r="1.3" fill="none" stroke="#c4466c" stroke-width="0.95"/>
<circle cx="48.6" cy="230.3" r="1.3" fill="none" stroke="#c4466c" stroke-width="0.95"/>
<circle cx="51.3" cy="231" r="1.3" fill="none" stroke="#c4466c" stroke-width="0.95"/>
<circle cx="53.6" cy="230.3" r="1.3" fill="none" stroke="#c4466c" stroke-width="0.95"/>
<circle cx="55.5" cy="230.3" r="1.3" fill="none" stroke="#c4466c" stroke-width="0.95"/>
<circle cx="57.5" cy="229.8" r="1.3" fill="none" stroke="#c4466c" stroke-width="0.95"/>
<circle cx="50.5" cy="234.5" r="1.3" fill="none" stroke="#c4466c" stroke-width="0.95"/>
<circle cx="53.6" cy="234" r="1.3" fill="none" stroke="#c4466c" stroke-width="0.95"/>
<circle cx="52.4" cy="235.6" r="1.3" fill="none" stroke="#c4466c" stroke-width="0.95"/>
<circle cx="53.6" cy="236.9" r="1.3" fill="none" stroke="#c4466c" stroke-width="0.95"/>
<circle cx="48.2" cy="240.8" r="1.3" fill="none" stroke="#c4466c" stroke-width="0.95"/>
<circle cx="51.3" cy="240.8" r="1.3" fill="none" stroke="#c4466c" stroke-width="0.95"/>
<circle cx="54.4" cy="243.1" r="1.3" fill="none" stroke="#c4466c" stroke-width="0.95"/>
<circle cx="56.75" cy="240.8" r="1.3" fill="none" stroke="#c4466c" stroke-width="0.95"/>
<circle cx="50.2" cy="241.9" r="1.3" fill="none" stroke="#c4466c" stroke-width="0.95"/>
<circle cx="51.3" cy="251.25" r="1.3" fill="none" stroke="#c4466c" stroke-width="0.95"/>
<circle cx="54.4" cy="250.6" r="1.3" fill="none" stroke="#c4466c" stroke-width="0.95"/>
<circle cx="54.4" cy="253.3" r="1.3" fill="none" stroke="#c4466c" stroke-width="0.95"/>
<circle cx="52.8" cy="257.5" r="1.3" fill="none" stroke="#c4466c" stroke-width="0.95"/>
<circle cx="75.2" cy="231.4" r="1.12" fill="#0c2868"/>
<circle cx="80.2" cy="231.4" r="1.12" fill="#0c2868"/>
<circle cx="77.8" cy="234.5" r="1.12" fill="#0c2868"/>
<circle cx="75.2" cy="241.25" r="1.12" fill="#0c2868"/>
<circle cx="80.2" cy="241.25" r="1.12" fill="#0c2868"/>
<circle cx="84.9" cy="240.3" r="1.12" fill="#0c2868"/>
<circle cx="75.2" cy="244.7" r="1.12" fill="#0c2868"/>
<circle cx="80.2" cy="244.7" r="1.12" fill="#0c2868"/>
<circle cx="84.9" cy="243.6" r="1.12" fill="#0c2868"/>
<circle cx="70.5" cy="248.3" r="1.12" fill="#0c2868"/>
<circle cx="75.2" cy="249.7" r="1.12" fill="#0c2868"/>
<circle cx="80.2" cy="249.7" r="1.12" fill="#0c2868"/>
<circle cx="84.9" cy="248.3" r="1.12" fill="#0c2868"/>
<circle cx="70.5" cy="252.5" r="1.12" fill="#0c2868"/>
<circle cx="75.2" cy="254" r="1.12" fill="#0c2868"/>
<circle cx="80.2" cy="254.8" r="1.12" fill="#0c2868"/>
<circle cx="75.2" cy="260.3" r="1.12" fill="#0c2868"/>
<circle cx="80.2" cy="259.5" r="1.12" fill="#0c2868"/>
<circle cx="75.2" cy="266.1" r="1.12" fill="#0c2868"/>
<circle cx="80.2" cy="265" r="1.12" fill="#0c2868"/>
<circle cx="75.2" cy="270.8" r="1.12" fill="#0c2868"/>
<circle cx="80.2" cy="270" r="1.12" fill="#0c2868"/>
<circle cx="77.8" cy="277" r="1.12" fill="#0c2868"/>
<circle cx="77.8" cy="283" r="1.12" fill="#0c2868"/>
<line x1="44.6" y1="235.8" x2="61.4" y2="235.8" stroke="#000" stroke-width="1.35"/>
<line x1="53.0" y1="233.4" x2="53.0" y2="238.1" stroke="#111" stroke-width="0.9"/>
<line x1="50.0" y1="233.4" x2="56.0" y2="233.4" stroke="#111" stroke-width="0.9"/>
<line x1="50.0" y1="238.1" x2="56.0" y2="238.1" stroke="#111" stroke-width="0.9"/>
<line x1="69.25" y1="252.5" x2="85.7" y2="252.5" stroke="#000" stroke-width="1.35"/>
<line x1="77.475" y1="249.7" x2="77.475" y2="255.3" stroke="#111" stroke-width="0.9"/>
<line x1="74.475" y1="249.7" x2="80.475" y2="249.7" stroke="#111" stroke-width="0.9"/>
<line x1="74.475" y1="255.3" x2="80.475" y2="255.3" stroke="#111" stroke-width="0.9"/>
<text x="164.3" y="190.8" font-size="8.6" fill="#1a1a1a" text-anchor="middle" font-weight="normal" textLength="71.2" lengthAdjust="spacingAndGlyphs" stroke="#1a1a1a" stroke-width="0.2" >BCL2 dependence</text>
<text x="163.7" y="201.0" font-size="8.6" fill="#1a1a1a" text-anchor="middle" font-weight="normal" textLength="75.2" lengthAdjust="spacingAndGlyphs" stroke="#1a1a1a" stroke-width="0.2" >(venetoclax: 0.1µM)</text>
<line x1="134.0" y1="206.1" x2="134.0" y2="299.6" stroke="#111" stroke-width="1.2"/>
<line x1="133.4" y1="299.6" x2="192.4" y2="299.6" stroke="#111" stroke-width="1.2"/>
<line x1="132.40" y1="295.99" x2="134.0" y2="295.99" stroke="#111" stroke-width="0.8"/>
<line x1="130.60" y1="292.20" x2="134.0" y2="292.20" stroke="#111" stroke-width="0.8"/>
<line x1="132.40" y1="288.41" x2="134.0" y2="288.41" stroke="#111" stroke-width="0.8"/>
<line x1="132.40" y1="284.62" x2="134.0" y2="284.62" stroke="#111" stroke-width="0.8"/>
<line x1="132.40" y1="280.83" x2="134.0" y2="280.83" stroke="#111" stroke-width="0.8"/>
<line x1="132.40" y1="277.04" x2="134.0" y2="277.04" stroke="#111" stroke-width="0.8"/>
<line x1="132.40" y1="273.25" x2="134.0" y2="273.25" stroke="#111" stroke-width="0.8"/>
<line x1="132.40" y1="269.46" x2="134.0" y2="269.46" stroke="#111" stroke-width="0.8"/>
<line x1="132.40" y1="265.67" x2="134.0" y2="265.67" stroke="#111" stroke-width="0.8"/>
<line x1="132.40" y1="261.88" x2="134.0" y2="261.88" stroke="#111" stroke-width="0.8"/>
<line x1="132.40" y1="258.09" x2="134.0" y2="258.09" stroke="#111" stroke-width="0.8"/>
<line x1="130.60" y1="254.30" x2="134.0" y2="254.30" stroke="#111" stroke-width="0.8"/>
<line x1="132.40" y1="250.51" x2="134.0" y2="250.51" stroke="#111" stroke-width="0.8"/>
<line x1="132.40" y1="246.72" x2="134.0" y2="246.72" stroke="#111" stroke-width="0.8"/>
<line x1="132.40" y1="242.93" x2="134.0" y2="242.93" stroke="#111" stroke-width="0.8"/>
<line x1="132.40" y1="239.14" x2="134.0" y2="239.14" stroke="#111" stroke-width="0.8"/>
<line x1="132.40" y1="235.35" x2="134.0" y2="235.35" stroke="#111" stroke-width="0.8"/>
<line x1="132.40" y1="231.56" x2="134.0" y2="231.56" stroke="#111" stroke-width="0.8"/>
<line x1="132.40" y1="227.77" x2="134.0" y2="227.77" stroke="#111" stroke-width="0.8"/>
<line x1="132.40" y1="223.98" x2="134.0" y2="223.98" stroke="#111" stroke-width="0.8"/>
<line x1="132.40" y1="220.19" x2="134.0" y2="220.19" stroke="#111" stroke-width="0.8"/>
<line x1="130.60" y1="216.40" x2="134.0" y2="216.40" stroke="#111" stroke-width="0.8"/>
<line x1="132.40" y1="212.61" x2="134.0" y2="212.61" stroke="#111" stroke-width="0.8"/>
<line x1="132.40" y1="208.82" x2="134.0" y2="208.82" stroke="#111" stroke-width="0.8"/>
<text x="127.7" y="294.4" font-size="6.2" fill="#1a1a1a" text-anchor="end" font-weight="normal" stroke="#1a1a1a" stroke-width="0.15" >0</text>
<text x="127.7" y="256.5" font-size="6.2" fill="#1a1a1a" text-anchor="end" font-weight="normal" stroke="#1a1a1a" stroke-width="0.15" >50</text>
<text x="127.7" y="218.6" font-size="6.2" fill="#1a1a1a" text-anchor="end" font-weight="normal" stroke="#1a1a1a" stroke-width="0.15" >100</text>
<line x1="134.6" y1="292.2" x2="192.4" y2="292.2" stroke="#111" stroke-width="0.9" stroke-dasharray="1.4,0.8"/>
<line x1="151.2" y1="299.6" x2="151.2" y2="302.4" stroke="#111" stroke-width="0.8"/>
<line x1="176.9" y1="299.6" x2="176.9" y2="302.4" stroke="#111" stroke-width="0.8"/>
<text x="151.2" y="311.6" font-size="5.7" fill="#1a1a1a" text-anchor="middle" font-weight="normal" stroke="#1a1a1a" stroke-width="0.15" >CLL</text>
<text x="176.9" y="311.6" font-size="5.7" fill="#1a1a1a" text-anchor="middle" font-weight="normal" stroke="#1a1a1a" stroke-width="0.15" >T-PLL</text>
<text transform="translate(111.7,252.5) rotate(-90)" font-size="6.4" fill="#1a1a1a" stroke="#1a1a1a" stroke-width="0.2" text-anchor="middle" textLength="66" lengthAdjust="spacingAndGlyphs">Cytochrome C loss (%)</text>
<path d="M151,217.2 L151,213.6 L177.9,213.6 L177.9,217.2" fill="none" stroke="#1a1a1a" stroke-width="1.1"/>
<circle cx="163.15" cy="210.85" r="0.85" fill="#222"/>
<circle cx="165.75" cy="210.85" r="0.85" fill="#222"/>
<circle cx="148.75" cy="220.6" r="1.3" fill="none" stroke="#c4466c" stroke-width="0.95"/>
<circle cx="153.75" cy="220.3" r="1.3" fill="none" stroke="#c4466c" stroke-width="0.95"/>
<circle cx="143.6" cy="225.3" r="1.3" fill="none" stroke="#c4466c" stroke-width="0.95"/>
<circle cx="148.75" cy="224.5" r="1.3" fill="none" stroke="#c4466c" stroke-width="0.95"/>
<circle cx="158.75" cy="224.5" r="1.3" fill="none" stroke="#c4466c" stroke-width="0.95"/>
<circle cx="148.75" cy="228.4" r="1.3" fill="none" stroke="#c4466c" stroke-width="0.95"/>
<circle cx="153.75" cy="227.3" r="1.3" fill="none" stroke="#c4466c" stroke-width="0.95"/>
<circle cx="158.75" cy="228.4" r="1.3" fill="none" stroke="#c4466c" stroke-width="0.95"/>
<circle cx="148.75" cy="231.9" r="1.3" fill="none" stroke="#c4466c" stroke-width="0.95"/>
<circle cx="153.75" cy="232.3" r="1.3" fill="none" stroke="#c4466c" stroke-width="0.95"/>
<circle cx="144.4" cy="235.5" r="1.3" fill="none" stroke="#c4466c" stroke-width="0.95"/>
<circle cx="148.75" cy="234.4" r="1.3" fill="none" stroke="#c4466c" stroke-width="0.95"/>
<circle cx="153.75" cy="234" r="1.3" fill="none" stroke="#c4466c" stroke-width="0.95"/>
<circle cx="148.75" cy="236.8" r="1.3" fill="none" stroke="#c4466c" stroke-width="0.95"/>
<circle cx="153.75" cy="236.8" r="1.3" fill="none" stroke="#c4466c" stroke-width="0.95"/>
<circle cx="158.4" cy="238.6" r="1.3" fill="none" stroke="#c4466c" stroke-width="0.95"/>
<circle cx="143.6" cy="239.4" r="1.3" fill="none" stroke="#c4466c" stroke-width="0.95"/>
<circle cx="158.4" cy="241.7" r="1.3" fill="none" stroke="#c4466c" stroke-width="0.95"/>
<circle cx="148.75" cy="242.2" r="1.3" fill="none" stroke="#c4466c" stroke-width="0.95"/>
<circle cx="153.75" cy="243" r="1.3" fill="none" stroke="#c4466c" stroke-width="0.95"/>
<circle cx="148.3" cy="247.8" r="1.3" fill="none" stroke="#c4466c" stroke-width="0.95"/>
<circle cx="153.4" cy="248.1" r="1.3" fill="none" stroke="#c4466c" stroke-width="0.95"/>
<circle cx="158.4" cy="246.3" r="1.3" fill="none" stroke="#c4466c" stroke-width="0.95"/>
<circle cx="151.1" cy="251.3" r="1.3" fill="none" stroke="#c4466c" stroke-width="0.95"/>
<circle cx="176.9" cy="220.6" r="1.12" fill="#0c2868"/>
<circle cx="176.9" cy="223.4" r="1.12" fill="#0c2868"/>
<circle cx="174.8" cy="228.4" r="1.12" fill="#0c2868"/>
<circle cx="179.5" cy="228.1" r="1.12" fill="#0c2868"/>
<circle cx="184.7" cy="227.2" r="1.12" fill="#0c2868"/>
<circle cx="177.2" cy="231.25" r="1.12" fill="#0c2868"/>
<circle cx="174.8" cy="234.4" r="1.12" fill="#0c2868"/>
<circle cx="179.5" cy="233.6" r="1.12" fill="#0c2868"/>
<circle cx="176.9" cy="237.8" r="1.12" fill="#0c2868"/>
<circle cx="171.7" cy="247" r="1.12" fill="#0c2868"/>
<circle cx="176.9" cy="247" r="1.12" fill="#0c2868"/>
<circle cx="181.9" cy="247" r="1.12" fill="#0c2868"/>
<circle cx="174.8" cy="251" r="1.12" fill="#0c2868"/>
<circle cx="179.5" cy="251.25" r="1.12" fill="#0c2868"/>
<circle cx="174.8" cy="253.75" r="1.12" fill="#0c2868"/>
<circle cx="179.5" cy="255.6" r="1.12" fill="#0c2868"/>
<circle cx="174.8" cy="255.6" r="1.12" fill="#0c2868"/>
<circle cx="177.2" cy="258.75" r="1.12" fill="#0c2868"/>
<circle cx="169.7" cy="267.8" r="1.12" fill="#0c2868"/>
<circle cx="174.5" cy="266.1" r="1.12" fill="#0c2868"/>
<circle cx="179.6" cy="268.1" r="1.12" fill="#0c2868"/>
<circle cx="184.7" cy="267.8" r="1.12" fill="#0c2868"/>
<circle cx="177.1" cy="272.35" r="1.12" fill="#0c2868"/>
<circle cx="177.1" cy="275.5" r="1.12" fill="#0c2868"/>
<line x1="142.8" y1="235" x2="159.7" y2="235" stroke="#000" stroke-width="1.35"/>
<line x1="151.25" y1="232.8" x2="151.25" y2="237.4" stroke="#111" stroke-width="0.9"/>
<line x1="148.25" y1="232.8" x2="154.25" y2="232.8" stroke="#111" stroke-width="0.9"/>
<line x1="148.25" y1="237.4" x2="154.25" y2="237.4" stroke="#111" stroke-width="0.9"/>
<line x1="169.4" y1="247.8" x2="185.8" y2="247.8" stroke="#000" stroke-width="1.35"/>
<line x1="177.60000000000002" y1="244.4" x2="177.60000000000002" y2="251.25" stroke="#111" stroke-width="0.9"/>
<line x1="174.60000000000002" y1="244.4" x2="180.60000000000002" y2="244.4" stroke="#111" stroke-width="0.9"/>
<line x1="174.60000000000002" y1="251.25" x2="180.60000000000002" y2="251.25" stroke="#111" stroke-width="0.9"/>
<text x="271.1" y="190.8" font-size="8.6" fill="#1a1a1a" text-anchor="middle" font-weight="normal" textLength="74.4" lengthAdjust="spacingAndGlyphs" stroke="#1a1a1a" stroke-width="0.2" >BCLxL dependence</text>
<text x="270.8" y="201.0" font-size="8.6" fill="#1a1a1a" text-anchor="middle" font-weight="normal" textLength="44.4" lengthAdjust="spacingAndGlyphs" stroke="#1a1a1a" stroke-width="0.2" >(HRK: 5µM)</text>
<line x1="239.8" y1="206.9" x2="239.8" y2="299.6" stroke="#111" stroke-width="1.2"/>
<line x1="239.20000000000002" y1="299.6" x2="300.9" y2="299.6" stroke="#111" stroke-width="1.2"/>
<line x1="238.20" y1="295.79" x2="239.8" y2="295.79" stroke="#111" stroke-width="0.8"/>
<line x1="236.40" y1="292.00" x2="239.8" y2="292.00" stroke="#111" stroke-width="0.8"/>
<line x1="238.20" y1="288.21" x2="239.8" y2="288.21" stroke="#111" stroke-width="0.8"/>
<line x1="238.20" y1="284.42" x2="239.8" y2="284.42" stroke="#111" stroke-width="0.8"/>
<line x1="238.20" y1="280.63" x2="239.8" y2="280.63" stroke="#111" stroke-width="0.8"/>
<line x1="238.20" y1="276.84" x2="239.8" y2="276.84" stroke="#111" stroke-width="0.8"/>
<line x1="238.20" y1="273.05" x2="239.8" y2="273.05" stroke="#111" stroke-width="0.8"/>
<line x1="238.20" y1="269.26" x2="239.8" y2="269.26" stroke="#111" stroke-width="0.8"/>
<line x1="238.20" y1="265.47" x2="239.8" y2="265.47" stroke="#111" stroke-width="0.8"/>
<line x1="238.20" y1="261.68" x2="239.8" y2="261.68" stroke="#111" stroke-width="0.8"/>
<line x1="238.20" y1="257.89" x2="239.8" y2="257.89" stroke="#111" stroke-width="0.8"/>
<line x1="236.40" y1="254.10" x2="239.8" y2="254.10" stroke="#111" stroke-width="0.8"/>
<line x1="238.20" y1="250.31" x2="239.8" y2="250.31" stroke="#111" stroke-width="0.8"/>
<line x1="238.20" y1="246.52" x2="239.8" y2="246.52" stroke="#111" stroke-width="0.8"/>
<line x1="238.20" y1="242.73" x2="239.8" y2="242.73" stroke="#111" stroke-width="0.8"/>
<line x1="238.20" y1="238.94" x2="239.8" y2="238.94" stroke="#111" stroke-width="0.8"/>
<line x1="238.20" y1="235.15" x2="239.8" y2="235.15" stroke="#111" stroke-width="0.8"/>
<line x1="238.20" y1="231.36" x2="239.8" y2="231.36" stroke="#111" stroke-width="0.8"/>
<line x1="238.20" y1="227.57" x2="239.8" y2="227.57" stroke="#111" stroke-width="0.8"/>
<line x1="238.20" y1="223.78" x2="239.8" y2="223.78" stroke="#111" stroke-width="0.8"/>
<line x1="238.20" y1="219.99" x2="239.8" y2="219.99" stroke="#111" stroke-width="0.8"/>
<line x1="236.40" y1="216.20" x2="239.8" y2="216.20" stroke="#111" stroke-width="0.8"/>
<line x1="238.20" y1="212.41" x2="239.8" y2="212.41" stroke="#111" stroke-width="0.8"/>
<line x1="238.20" y1="208.62" x2="239.8" y2="208.62" stroke="#111" stroke-width="0.8"/>
<text x="233.5" y="294.2" font-size="6.2" fill="#1a1a1a" text-anchor="end" font-weight="normal" stroke="#1a1a1a" stroke-width="0.15" >0</text>
<text x="233.5" y="256.3" font-size="6.2" fill="#1a1a1a" text-anchor="end" font-weight="normal" stroke="#1a1a1a" stroke-width="0.15" >50</text>
<text x="233.5" y="218.39999999999998" font-size="6.2" fill="#1a1a1a" text-anchor="end" font-weight="normal" stroke="#1a1a1a" stroke-width="0.15" >100</text>
<line x1="240.4" y1="292.0" x2="300.9" y2="292.0" stroke="#111" stroke-width="0.9" stroke-dasharray="1.4,0.8"/>
<line x1="258" y1="299.6" x2="258" y2="302.4" stroke="#111" stroke-width="0.8"/>
<line x1="283.7" y1="299.6" x2="283.7" y2="302.4" stroke="#111" stroke-width="0.8"/>
<text x="258" y="311.6" font-size="5.7" fill="#1a1a1a" text-anchor="middle" font-weight="normal" stroke="#1a1a1a" stroke-width="0.15" >CLL</text>
<text x="283.7" y="311.6" font-size="5.7" fill="#1a1a1a" text-anchor="middle" font-weight="normal" stroke="#1a1a1a" stroke-width="0.15" >T-PLL</text>
<text transform="translate(216.2,252.5) rotate(-90)" font-size="6.4" fill="#1a1a1a" stroke="#1a1a1a" stroke-width="0.2" text-anchor="middle" textLength="66" lengthAdjust="spacingAndGlyphs">Cytochrome C loss (%)</text>
<path d="M257.7,242.0 L257.7,238.4 L284.2,238.4 L284.2,242.0" fill="none" stroke="#1a1a1a" stroke-width="1.1"/>
<circle cx="267.05" cy="235.65" r="0.85" fill="#222"/>
<circle cx="269.65" cy="235.65" r="0.85" fill="#222"/>
<circle cx="272.25" cy="235.65" r="0.85" fill="#222"/>
<circle cx="274.85" cy="235.65" r="0.85" fill="#222"/>
<circle cx="258" cy="275" r="1.3" fill="none" stroke="#c4466c" stroke-width="0.95"/>
<circle cx="260.3" cy="278.9" r="1.3" fill="none" stroke="#c4466c" stroke-width="0.95"/>
<circle cx="258.75" cy="280.5" r="1.3" fill="none" stroke="#c4466c" stroke-width="0.95"/>
<circle cx="250.2" cy="282.8" r="1.3" fill="none" stroke="#c4466c" stroke-width="0.95"/>
<circle cx="252.5" cy="283.6" r="1.3" fill="none" stroke="#c4466c" stroke-width="0.95"/>
<circle cx="255.6" cy="283.6" r="1.3" fill="none" stroke="#c4466c" stroke-width="0.95"/>
<circle cx="258.75" cy="282.8" r="1.3" fill="none" stroke="#c4466c" stroke-width="0.95"/>
<circle cx="261.9" cy="282.8" r="1.3" fill="none" stroke="#c4466c" stroke-width="0.95"/>
<circle cx="265" cy="282.8" r="1.3" fill="none" stroke="#c4466c" stroke-width="0.95"/>
<circle cx="251" cy="285" r="1.3" fill="none" stroke="#c4466c" stroke-width="0.95"/>
<circle cx="265" cy="285" r="1.3" fill="none" stroke="#c4466c" stroke-width="0.95"/>
<circle cx="254" cy="288.3" r="1.3" fill="none" stroke="#c4466c" stroke-width="0.95"/>
<circle cx="257.2" cy="289" r="1.3" fill="none" stroke="#c4466c" stroke-width="0.95"/>
<circle cx="260.3" cy="289" r="1.3" fill="none" stroke="#c4466c" stroke-width="0.95"/>
<circle cx="255.6" cy="291" r="1.3" fill="none" stroke="#c4466c" stroke-width="0.95"/>
<circle cx="260.3" cy="291.4" r="1.3" fill="none" stroke="#c4466c" stroke-width="0.95"/>
<circle cx="258" cy="296" r="1.3" fill="none" stroke="#c4466c" stroke-width="0.95"/>
<circle cx="263" cy="287.5" r="1.3" fill="none" stroke="#c4466c" stroke-width="0.95"/>
<circle cx="248.8" cy="286.5" r="1.3" fill="none" stroke="#c4466c" stroke-width="0.95"/>
<circle cx="284.2" cy="257" r="1.12" fill="#0c2868"/>
<circle cx="276.7" cy="273.2" r="1.12" fill="#0c2868"/>
<circle cx="279.8" cy="272.2" r="1.12" fill="#0c2868"/>
<circle cx="285.3" cy="272.6" r="1.12" fill="#0c2868"/>
<circle cx="288.4" cy="273.4" r="1.12" fill="#0c2868"/>
<circle cx="291.6" cy="273.4" r="1.12" fill="#0c2868"/>
<circle cx="280.6" cy="274.9" r="1.12" fill="#0c2868"/>
<circle cx="283" cy="275.9" r="1.12" fill="#0c2868"/>
<circle cx="276.7" cy="280" r="1.12" fill="#0c2868"/>
<circle cx="279.8" cy="280.5" r="1.12" fill="#0c2868"/>
<circle cx="283" cy="280" r="1.12" fill="#0c2868"/>
<circle cx="286.1" cy="280.5" r="1.12" fill="#0c2868"/>
<circle cx="289.2" cy="280" r="1.12" fill="#0c2868"/>
<circle cx="291.6" cy="280" r="1.12" fill="#0c2868"/>
<circle cx="276.7" cy="283.6" r="1.12" fill="#0c2868"/>
<circle cx="279.8" cy="282.8" r="1.12" fill="#0c2868"/>
<circle cx="283" cy="283.6" r="1.12" fill="#0c2868"/>
<circle cx="286.1" cy="282.8" r="1.12" fill="#0c2868"/>
<circle cx="289.2" cy="283.6" r="1.12" fill="#0c2868"/>
<circle cx="291.6" cy="282.8" r="1.12" fill="#0c2868"/>
<circle cx="279" cy="286.7" r="1.12" fill="#0c2868"/>
<circle cx="283" cy="285.2" r="1.12" fill="#0c2868"/>
<circle cx="286.1" cy="285.2" r="1.12" fill="#0c2868"/>
<line x1="249.7" y1="286.7" x2="266.5" y2="286.7" stroke="#000" stroke-width="1.35"/>
<line x1="258.1" y1="285.2" x2="258.1" y2="288.2" stroke="#111" stroke-width="0.9"/>
<line x1="255.10000000000002" y1="285.2" x2="261.1" y2="285.2" stroke="#111" stroke-width="0.9"/>
<line x1="255.10000000000002" y1="288.2" x2="261.1" y2="288.2" stroke="#111" stroke-width="0.9"/>
<line x1="275.6" y1="278.9" x2="292.3" y2="278.9" stroke="#000" stroke-width="1.35"/>
<line x1="283.95000000000005" y1="277.2" x2="283.95000000000005" y2="280.6" stroke="#111" stroke-width="0.9"/>
<line x1="280.95000000000005" y1="277.2" x2="286.95000000000005" y2="277.2" stroke="#111" stroke-width="0.9"/>
<line x1="280.95000000000005" y1="280.6" x2="286.95000000000005" y2="280.6" stroke="#111" stroke-width="0.9"/>
<rect x="0.5" y="0.5" width="519" height="319" fill="none" stroke="#000" stroke-width="1.3"/>
</g></svg>
</div></body></html>
